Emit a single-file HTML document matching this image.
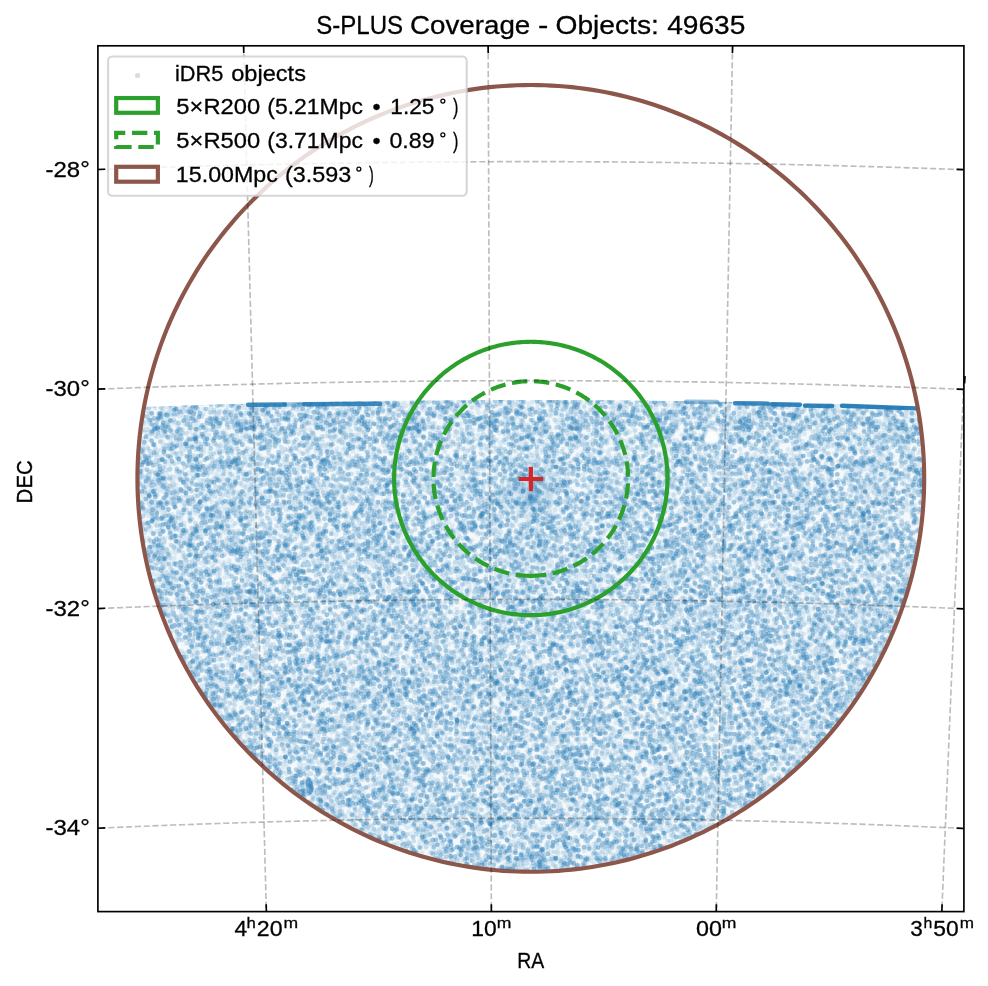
<!DOCTYPE html>
<html><head><meta charset="utf-8"><title>S-PLUS Coverage</title>
<style>html,body{margin:0;padding:0;background:#fff;width:988px;height:986px;overflow:hidden;} svg{display:block;} text{font-kerning:none;}</style>
</head><body>
<svg width="988" height="986" viewBox="0 0 988 986"><defs><clipPath id="reg"><path d="M143.41,410.10 L142.83,413.48 L142.28,416.87 L141.76,420.26 L141.27,423.66 L140.80,427.06 L140.37,430.47 L139.97,433.88 L139.59,437.29 L139.25,440.70 L138.94,444.12 L138.65,447.54 L138.40,450.97 L138.17,454.39 L137.98,457.82 L137.81,461.25 L137.68,464.68 L137.58,468.11 L137.50,471.54 L137.46,474.97 L137.44,478.41 L137.46,481.84 L137.50,485.27 L137.58,488.70 L137.68,492.14 L137.82,495.57 L137.98,498.99 L138.18,502.42 L138.40,505.85 L138.65,509.27 L138.94,512.69 L139.25,516.11 L139.60,519.52 L139.97,522.94 L140.37,526.35 L140.81,529.75 L141.27,533.15 L141.76,536.55 L142.29,539.94 L142.84,543.33 L143.42,546.71 L144.03,550.09 L144.67,553.46 L145.34,556.83 L146.04,560.19 L146.77,563.54 L147.52,566.89 L148.31,570.23 L149.13,573.57 L149.97,576.89 L150.85,580.21 L151.75,583.53 L152.68,586.83 L153.64,590.12 L154.63,593.41 L155.65,596.69 L156.70,599.96 L157.77,603.22 L158.87,606.47 L160.01,609.71 L161.17,612.94 L162.35,616.16 L163.57,619.37 L164.81,622.57 L166.09,625.76 L167.38,628.93 L168.71,632.10 L170.07,635.25 L171.45,638.39 L172.86,641.52 L174.30,644.64 L175.76,647.74 L177.25,650.84 L178.77,653.91 L180.31,656.98 L181.89,660.03 L183.48,663.07 L185.11,666.09 L186.76,669.10 L188.44,672.10 L190.14,675.08 L191.87,678.04 L193.62,680.99 L195.40,683.92 L197.21,686.84 L199.04,689.75 L200.90,692.63 L202.78,695.50 L204.69,698.36 L206.62,701.19 L208.57,704.01 L210.55,706.82 L212.56,709.60 L214.59,712.37 L216.64,715.12 L218.72,717.85 L220.82,720.57 L222.95,723.26 L225.09,725.94 L227.27,728.60 L229.46,731.24 L231.68,733.86 L233.92,736.46 L236.18,739.04 L238.47,741.60 L240.77,744.14 L243.10,746.66 L245.45,749.16 L247.83,751.64 L250.22,754.10 L252.64,756.53 L255.08,758.95 L257.53,761.34 L260.01,763.72 L262.51,766.07 L265.03,768.40 L267.57,770.71 L270.13,772.99 L272.71,775.26 L275.31,777.50 L277.93,779.71 L280.57,781.91 L283.23,784.08 L285.90,786.23 L288.60,788.35 L291.31,790.46 L294.04,792.53 L296.79,794.59 L299.56,796.62 L302.35,798.62 L305.15,800.60 L307.97,802.56 L310.81,804.49 L313.66,806.40 L316.53,808.28 L319.42,810.14 L322.32,811.97 L325.24,813.78 L328.17,815.56 L331.12,817.31 L334.08,819.04 L337.06,820.74 L340.06,822.42 L343.07,824.07 L346.09,825.70 L349.13,827.30 L352.18,828.87 L355.24,830.41 L358.32,831.93 L361.41,833.42 L364.51,834.89 L367.63,836.32 L370.76,837.73 L373.90,839.12 L377.05,840.47 L380.22,841.80 L383.39,843.10 L386.58,844.37 L389.78,845.62 L392.99,846.83 L396.21,848.02 L399.44,849.18 L402.68,850.31 L405.93,851.42 L409.19,852.49 L412.45,853.54 L415.73,854.56 L419.02,855.55 L422.31,856.51 L425.62,857.44 L428.93,858.34 L432.24,859.22 L435.57,860.06 L438.90,860.88 L442.24,861.67 L445.59,862.42 L448.94,863.15 L452.30,863.85 L455.67,864.52 L459.04,865.16 L462.42,865.78 L465.80,866.36 L469.19,866.91 L472.58,867.43 L475.98,867.93 L479.38,868.39 L482.78,868.82 L486.19,869.23 L489.60,869.60 L493.01,869.95 L496.43,870.26 L499.85,870.55 L503.27,870.80 L506.70,871.03 L510.13,871.22 L513.55,871.39 L516.98,871.52 L520.41,871.63 L523.84,871.70 L527.28,871.75 L530.71,871.77 L534.14,871.75 L537.57,871.71 L541.00,871.63 L544.43,871.53 L547.86,871.40 L551.29,871.23 L554.72,871.04 L558.14,870.82 L561.56,870.56 L564.98,870.28 L568.40,869.97 L571.81,869.62 L575.23,869.25 L578.63,868.85 L582.04,868.42 L585.44,867.95 L588.84,867.46 L592.23,866.94 L595.62,866.39 L599.00,865.81 L602.38,865.20 L605.75,864.56 L609.11,863.89 L612.47,863.20 L615.83,862.47 L619.18,861.71 L622.52,860.93 L625.85,860.11 L629.18,859.27 L632.50,858.40 L635.81,857.49 L639.11,856.56 L642.41,855.60 L645.69,854.62 L648.97,853.60 L652.24,852.55 L655.50,851.48 L658.75,850.38 L661.99,849.25 L665.22,848.09 L668.44,846.90 L671.65,845.69 L674.85,844.45 L678.04,843.18 L681.21,841.88 L684.38,840.55 L687.53,839.20 L690.67,837.82 L693.80,836.41 L696.92,834.97 L700.03,833.51 L703.12,832.02 L706.20,830.50 L709.26,828.96 L712.31,827.39 L715.35,825.79 L718.38,824.17 L721.38,822.52 L724.38,820.84 L727.36,819.14 L730.33,817.41 L733.28,815.66 L736.21,813.88 L739.13,812.08 L742.03,810.25 L744.92,808.39 L747.79,806.51 L750.65,804.60 L753.48,802.67 L756.30,800.72 L759.11,798.74 L761.89,796.73 L764.66,794.71 L767.41,792.65 L770.15,790.58 L772.86,788.48 L775.56,786.35 L778.23,784.21 L780.89,782.04 L783.53,779.84 L786.15,777.63 L788.75,775.39 L791.34,773.12 L793.90,770.84 L796.44,768.53 L798.96,766.21 L801.46,763.85 L803.94,761.48 L806.40,759.09 L808.84,756.67 L811.26,754.24 L813.65,751.78 L816.03,749.30 L818.38,746.80 L820.71,744.28 L823.02,741.74 L825.31,739.18 L827.57,736.60 L829.81,734.01 L832.03,731.39 L834.23,728.75 L836.40,726.09 L838.55,723.42 L840.68,720.72 L842.78,718.01 L844.86,715.28 L846.91,712.53 L848.94,709.76 L850.95,706.98 L852.93,704.17 L854.89,701.36 L856.82,698.52 L858.73,695.67 L860.61,692.80 L862.47,689.91 L864.31,687.01 L866.11,684.09 L867.90,681.16 L869.65,678.21 L871.38,675.24 L873.09,672.26 L874.77,669.27 L876.42,666.26 L878.04,663.24 L879.64,660.20 L881.22,657.15 L882.76,654.09 L884.28,651.01 L885.78,647.92 L887.24,644.81 L888.68,641.70 L890.09,638.57 L891.48,635.43 L892.83,632.28 L894.16,629.11 L895.46,625.93 L896.74,622.75 L897.98,619.55 L899.20,616.34 L900.39,613.12 L901.55,609.89 L902.68,606.65 L903.79,603.40 L904.86,600.14 L905.91,596.87 L906.93,593.59 L907.92,590.31 L908.89,587.01 L909.82,583.71 L910.72,580.40 L911.60,577.08 L912.45,573.75 L913.26,570.42 L914.05,567.08 L914.81,563.73 L915.54,560.37 L916.24,557.01 L916.91,553.65 L917.56,550.28 L918.17,546.90 L918.75,543.52 L919.30,540.13 L919.83,536.73 L920.32,533.34 L920.79,529.94 L921.22,526.53 L921.63,523.12 L922.00,519.71 L922.35,516.30 L922.66,512.88 L922.95,509.46 L923.21,506.03 L923.43,502.61 L923.63,499.18 L923.80,495.75 L923.93,492.32 L924.04,488.89 L924.12,485.46 L924.16,482.03 L924.18,478.59 L924.17,475.16 L924.12,471.73 L924.05,468.29 L923.95,464.86 L923.81,461.43 L923.65,458.00 L923.46,454.58 L923.23,451.15 L922.98,447.73 L922.70,444.31 L922.39,440.89 L922.04,437.47 L921.67,434.06 L921.27,430.65 L920.84,427.24 L920.38,423.84 L919.89,420.44 L919.37,417.05 L918.82,413.66 L918.24,410.28 L918.24,407.06 L905.10,406.59 L891.97,406.14 L878.84,405.71 L865.71,405.29 L852.57,404.89 L839.44,404.50 L826.31,404.13 L813.18,403.77 L800.04,403.44 L786.91,403.11 L773.78,402.81 L760.65,402.51 L747.51,402.24 L734.38,401.98 L721.25,401.74 L708.12,401.51 L694.98,401.30 L681.85,401.10 L668.72,400.92 L655.59,400.76 L642.45,400.61 L629.32,400.48 L616.19,400.37 L603.05,400.27 L589.92,400.19 L576.79,400.12 L563.66,400.07 L550.52,400.03 L537.39,400.01 L524.26,400.01 L511.13,400.02 L497.99,400.05 L484.86,400.10 L471.73,400.16 L458.60,400.24 L445.46,400.33 L432.33,400.44 L419.20,400.56 L406.07,400.70 L392.93,400.86 L379.80,401.03 L366.67,401.22 L353.54,401.43 L340.40,401.65 L327.27,401.89 L314.14,402.14 L301.01,402.41 L287.87,402.69 L274.74,402.99 L261.61,403.31 L248.48,403.64 L235.34,403.99 L222.21,404.36 L209.08,404.74 L195.94,405.14 L182.81,405.55 L169.68,405.98 L156.55,406.42 L143.41,406.88Z"/></clipPath><clipPath id="ax"><rect x="97.9" y="45.8" width="866.0" height="865.8000000000001"/></clipPath><pattern id="tex0" patternUnits="userSpaceOnUse" width="89" height="89"><g fill="none" stroke="#1f77b4" stroke-width="4.9" stroke-linecap="round"><path d="M69.0 20.0h0M70.9 41.6h0M44.9 49.3h0M-0.4 70.5h0M88.6 70.5h0M55.4 -1.0h0M55.4 88.0h0M19.2 14.3h0M54.5 3.9h0M54.5 92.9h0M3.2 45.8h0M92.2 45.8h0M56.0 45.8h0M32.9 0.3h0M32.9 89.3h0M73.9 13.7h0M45.4 75.4h0M56.9 66.0h0M32.2 53.2h0M5.3 34.5h0M72.7 33.8h0M53.9 56.8h0M39.2 21.3h0M-2.9 19.1h0M86.1 19.1h0M11.7 75.2h0M84.1 80.4h0M49.2 16.1h0M3.4 78.0h0M92.4 78.0h0M2.7 10.9h0M91.7 10.9h0M77.7 30.6h0M52.5 60.8h0M13.4 83.1h0M72.1 12.2h0M70.6 45.7h0M64.6 20.2h0M17.7 32.3h0M16.0 30.8h0M84.4 51.0h0M30.3 24.2h0M84.7 39.6h0M-1.7 45.9h0M87.3 45.9h0M66.1 51.7h0M6.1 38.3h0M60.2 63.8h0M56.0 -2.5h0M56.0 86.5h0M74.8 10.0h0M41.5 55.9h0M5.5 36.6h0M65.0 10.1h0M81.3 71.4h0M16.7 50.5h0M3.5 52.5h0M92.5 52.5h0M14.8 60.3h0M1.9 27.6h0M90.9 27.6h0M83.5 47.9h0M76.0 4.5h0M78.6 17.6h0M58.8 56.2h0M77.2 79.5h0M50.2 84.1h0M33.8 22.5h0M40.6 58.5h0M33.1 48.0h0M7.3 67.0h0M51.5 26.7h0M6.9 67.9h0M80.7 24.0h0M27.3 74.1h0M55.2 16.7h0M8.6 64.7h0M69.1 73.5h0M23.7 47.7h0M66.6 79.8h0M11.2 16.4h0M83.6 75.0h0M57.1 16.4h0M64.2 39.6h0M3.0 75.1h0M92.0 75.1h0M81.8 34.5h0M12.3 67.7h0M-0.6 13.2h0M88.4 13.2h0M63.4 73.5h0M81.9 11.0h0M8.2 -1.1h0M8.2 87.9h0M51.2 39.7h0M81.4 19.3h0M68.5 6.0h0M42.1 2.9h0M42.1 91.9h0M64.1 40.5h0M5.1 -0.4h0M5.1 88.6h0M21.9 35.1h0M11.0 15.7h0M16.3 59.6h0M23.7 46.9h0M25.2 45.9h0M77.7 16.0h0M20.5 -2.7h0M20.5 86.3h0M3.6 28.1h0M92.6 28.1h0M21.1 41.4h0M78.4 67.7h0M73.8 67.7h0M60.7 65.5h0M81.8 53.1h0M84.6 38.6h0M74.3 29.8h0M1.4 -3.7h0M1.4 85.3h0M90.4 -3.7h0M90.4 85.3h0M50.1 49.7h0M40.3 56.2h0M49.0 6.6h0M17.6 40.4h0M66.8 63.0h0M49.3 71.8h0M41.5 55.2h0M72.9 60.4h0M44.8 30.1h0M73.6 33.9h0M75.2 69.9h0M39.8 63.4h0M76.6 51.6h0M49.6 59.2h0M37.4 16.3h0M26.0 26.1h0M33.1 51.7h0M33.6 23.8h0M78.7 44.0h0M77.1 27.9h0M44.0 17.6h0M68.3 40.8h0M17.9 28.2h0M5.0 65.2h0M72.8 39.6h0M5.6 60.8h0M33.5 56.7h0M25.7 27.2h0M12.2 28.6h0M68.4 43.4h0M82.2 58.4h0M55.3 68.3h0M22.9 38.9h0M43.5 12.6h0M39.3 56.9h0M12.1 12.3h0M15.5 25.2h0M16.4 14.7h0M42.2 1.3h0M42.2 90.3h0M24.0 70.5h0M16.4 54.9h0M59.5 4.4h0M59.0 53.4h0M68.7 19.0h0M84.8 78.9h0M10.2 28.1h0M2.9 74.0h0M91.9 74.0h0M54.5 59.3h0M60.4 50.7h0M29.9 45.6h0" stroke-opacity="0.119"/><path d="M26.7 77.7h0M0.5 73.1h0M89.5 73.1h0M1.0 17.1h0M90.0 17.1h0M45.2 77.5h0M-1.9 52.5h0M87.1 52.5h0M35.8 8.6h0M59.8 26.7h0M17.1 82.6h0M78.7 57.1h0M50.7 33.5h0M28.7 66.9h0M2.2 33.1h0M91.2 33.1h0M-2.9 58.5h0M86.1 58.5h0M38.1 46.6h0M68.1 80.9h0M0.5 67.0h0M89.5 67.0h0M37.3 72.6h0M46.4 79.8h0M38.0 78.2h0M46.2 84.6h0M22.3 71.7h0M18.1 4.5h0M53.7 42.6h0M56.5 16.4h0M81.5 4.2h0M2.7 1.8h0M2.7 90.8h0M91.7 1.8h0M91.7 90.8h0M72.2 58.6h0M51.1 3.5h0M51.1 92.5h0M71.3 -3.6h0M71.3 85.4h0M30.1 28.3h0M71.0 27.9h0M11.5 68.3h0M51.1 56.8h0M54.2 8.6h0M73.3 71.5h0M14.4 2.4h0M14.4 91.4h0M57.9 19.1h0M9.0 33.9h0M11.9 59.0h0M73.9 33.5h0M38.7 78.7h0M60.0 33.0h0M5.7 46.2h0M67.4 17.0h0M48.3 34.5h0M48.8 64.2h0M34.0 73.9h0M10.4 15.7h0M66.8 17.0h0M76.6 43.1h0M55.9 47.7h0M12.1 10.1h0M-1.8 83.8h0M87.2 83.8h0M44.3 81.4h0M67.3 14.8h0M29.3 83.4h0M13.8 45.8h0M8.1 -3.1h0M8.1 85.9h0M51.2 71.5h0M25.1 71.4h0M41.7 36.4h0M17.4 78.2h0M49.7 35.3h0M66.2 33.9h0M60.3 51.9h0M38.3 -0.1h0M38.3 88.9h0M84.4 79.1h0M61.0 6.5h0M37.4 73.7h0M73.7 42.2h0M33.2 48.6h0M23.0 42.4h0M22.8 6.0h0M37.6 68.7h0M63.2 17.4h0M66.8 30.6h0M40.8 14.5h0M82.2 79.5h0M81.4 -0.9h0M81.4 88.1h0" stroke-opacity="0.198"/><path d="M27.0 24.8h0M22.7 39.6h0M44.2 22.0h0M61.6 17.9h0M23.8 78.3h0M8.1 48.2h0M60.2 13.4h0M77.8 58.9h0M50.7 12.9h0M36.6 21.3h0M41.6 48.7h0M1.3 55.9h0M90.3 55.9h0M29.6 35.4h0M18.9 81.5h0M52.9 58.7h0M27.3 -3.4h0M27.3 85.6h0M68.0 72.6h0M78.1 46.6h0M10.0 55.8h0M76.8 70.9h0M29.1 64.3h0M19.1 22.0h0M11.7 11.9h0M11.6 7.2h0M64.2 -0.3h0M64.2 88.7h0M69.2 35.2h0M67.6 67.4h0M33.7 37.4h0M27.9 27.8h0M79.1 81.6h0M20.2 11.1h0M2.9 44.8h0M91.9 44.8h0M53.4 5.9h0M26.8 14.9h0M36.9 61.6h0M59.6 18.6h0M49.1 68.5h0M52.8 19.8h0M57.1 36.1h0M41.5 67.2h0M3.1 34.7h0M92.1 34.7h0M31.4 39.8h0M72.7 14.3h0M84.8 54.1h0" stroke-opacity="0.297"/><path d="M41.5 81.6h0M28.8 13.4h0M31.6 46.2h0M36.6 82.1h0M22.5 22.1h0M54.4 17.0h0M29.4 40.7h0M33.4 63.3h0M71.2 57.4h0M35.2 70.4h0M18.5 45.1h0M63.0 75.6h0M62.6 57.3h0M5.8 64.8h0M64.1 46.6h0M65.0 7.5h0M83.0 3.5h0M83.0 92.5h0M62.9 68.6h0M21.9 57.3h0M46.7 56.2h0M18.1 -3.4h0M18.1 85.6h0M-3.4 2.3h0M-3.4 91.3h0M85.6 2.3h0M85.6 91.3h0M36.2 37.2h0" stroke-opacity="0.396"/></g></pattern><pattern id="tex1" patternUnits="userSpaceOnUse" width="127" height="127"><g fill="none" stroke="#1f77b4" stroke-width="4.9" stroke-linecap="round"><path d="M101.1 85.9h0M74.1 120.9h0M65.9 1.9h0M65.9 128.9h0M113.1 8.5h0M16.4 88.0h0M57.5 22.5h0M4.5 108.1h0M63.8 110.3h0M35.6 119.3h0M64.0 12.3h0M5.8 -1.2h0M5.8 125.8h0M73.6 6.9h0M64.9 64.0h0M19.3 51.8h0M105.9 79.2h0M92.7 73.2h0M-3.2 68.5h0M123.8 68.5h0M32.1 2.3h0M32.1 129.3h0M115.1 121.9h0M102.0 36.5h0M76.5 117.6h0M44.5 8.8h0M122.2 -2.4h0M122.2 124.6h0M25.7 110.4h0M101.7 117.1h0M18.0 1.7h0M18.0 128.7h0M39.3 113.6h0M-1.2 3.7h0M-1.2 130.7h0M125.8 3.7h0M125.8 130.7h0M38.2 121.8h0M1.9 20.5h0M128.9 20.5h0M27.1 11.0h0M71.4 17.5h0M68.8 79.9h0M32.6 -1.0h0M32.6 126.0h0M91.4 53.8h0M91.3 65.6h0M110.9 59.5h0M116.8 40.2h0M118.8 120.4h0M76.8 9.4h0M118.9 41.8h0M47.3 122.0h0M65.2 37.7h0M75.2 -2.1h0M75.2 124.9h0M58.4 97.7h0M100.0 110.4h0M25.0 33.8h0M46.0 103.9h0M69.8 65.0h0M96.5 83.2h0M55.9 48.8h0M120.8 42.9h0M59.8 103.4h0M122.6 111.4h0M15.9 63.3h0M81.3 116.3h0M101.7 20.4h0M60.6 62.5h0M64.9 116.1h0M50.7 33.2h0M70.6 40.7h0M117.7 10.8h0M90.4 37.2h0M0.1 49.2h0M127.1 49.2h0M122.2 97.0h0M106.9 45.5h0M-0.5 71.1h0M126.5 71.1h0M41.6 16.1h0M116.3 23.6h0M11.7 63.5h0M30.1 114.0h0M15.6 67.7h0M6.4 119.3h0M21.8 52.1h0M69.4 91.3h0M44.1 9.6h0M22.4 58.4h0M-1.3 87.3h0M125.7 87.3h0M45.6 70.4h0M101.1 80.7h0M89.9 33.5h0M25.5 7.8h0M100.5 102.7h0M83.6 10.7h0M84.1 73.2h0M78.4 56.8h0M58.9 94.7h0M46.3 11.1h0M48.2 40.9h0M77.2 58.4h0M71.5 2.2h0M71.5 129.2h0M83.4 113.5h0M45.0 13.3h0M113.2 15.6h0M15.0 40.5h0M-1.7 46.1h0M125.3 46.1h0M73.6 55.0h0M37.1 104.1h0M94.0 81.9h0M79.2 117.7h0M2.8 88.5h0M129.8 88.5h0M29.7 83.8h0M24.0 51.2h0M94.6 24.0h0M29.8 101.7h0M103.8 120.1h0M106.6 82.2h0M92.5 94.9h0M37.8 85.4h0M65.7 42.9h0M64.5 11.7h0M49.9 120.7h0M109.9 64.6h0M101.3 56.0h0M38.8 -1.5h0M38.8 125.5h0M42.6 29.1h0M82.2 54.3h0M70.3 20.2h0M42.9 24.1h0M58.6 1.5h0M58.6 128.5h0M90.8 32.6h0M68.0 58.1h0M37.3 53.5h0M97.9 9.6h0M35.1 60.8h0M85.9 82.0h0M92.1 13.4h0M35.8 96.0h0M-0.8 86.8h0M126.2 86.8h0M102.0 117.4h0M75.6 44.3h0M24.2 0.4h0M24.2 127.4h0M17.5 108.1h0M79.3 -1.2h0M79.3 125.8h0M8.5 51.0h0M57.4 23.9h0M91.1 67.9h0M10.2 30.1h0M8.0 24.2h0M25.4 52.7h0M33.9 68.9h0M28.1 109.0h0M37.9 83.4h0M33.5 61.1h0M105.6 17.9h0M119.6 122.8h0M92.7 86.0h0M40.1 41.0h0M91.9 0.7h0M91.9 127.7h0M111.1 96.6h0M36.5 48.8h0M42.2 47.9h0M90.6 95.5h0M107.8 103.0h0M85.0 91.6h0M15.3 50.4h0M95.0 98.5h0M16.4 81.4h0M24.6 34.0h0M58.7 21.9h0M68.4 43.7h0M83.2 67.5h0M89.8 93.3h0M120.2 73.3h0M34.6 55.1h0M31.5 33.7h0M46.2 99.2h0M45.5 6.8h0M84.0 99.3h0M106.8 3.0h0M106.8 130.0h0M106.6 24.9h0M32.4 11.8h0M60.9 99.2h0M51.5 20.4h0M14.5 26.1h0M63.8 85.6h0M-3.5 108.3h0M123.5 108.3h0M52.8 30.3h0M26.0 84.1h0M119.0 52.0h0M120.0 114.8h0M105.1 29.6h0M47.0 106.9h0M101.2 41.5h0M78.7 44.7h0M114.4 119.7h0M110.2 84.4h0M29.5 72.0h0M39.1 116.7h0M104.3 12.2h0M117.9 106.0h0M39.0 48.8h0M30.6 37.1h0M37.8 102.7h0M14.5 93.1h0M-3.2 90.3h0M123.8 90.3h0M66.2 27.2h0M2.2 119.7h0M129.2 119.7h0M58.8 106.0h0M45.4 102.3h0M77.0 68.2h0M16.0 104.2h0M105.1 68.3h0M110.9 45.1h0M52.1 42.4h0M0.7 29.4h0M127.7 29.4h0M97.2 54.2h0M72.2 36.1h0M45.8 95.7h0M80.1 116.4h0M94.3 116.4h0M49.3 72.6h0M105.0 93.6h0M117.3 8.4h0M97.7 58.9h0M62.0 108.1h0M34.3 104.5h0M98.6 114.0h0M16.2 21.1h0M115.9 110.5h0M-3.1 112.5h0M123.9 112.5h0M80.5 114.0h0M36.1 66.9h0M-2.6 76.0h0M124.4 76.0h0M64.4 100.0h0M39.7 105.5h0M2.4 30.3h0M129.4 30.3h0M22.5 32.7h0M37.9 72.9h0M66.2 88.1h0M79.6 42.7h0M114.4 48.5h0M117.6 75.5h0M79.4 85.7h0M16.9 60.9h0M15.5 1.8h0M15.5 128.8h0M-0.4 39.7h0M126.6 39.7h0M64.7 26.7h0M71.0 45.7h0M29.7 23.2h0M41.1 108.2h0" stroke-opacity="0.119"/><path d="M69.5 78.5h0M12.7 33.1h0M103.1 99.9h0M110.0 51.1h0M39.5 64.2h0M1.0 56.2h0M128.0 56.2h0M25.3 90.5h0M113.9 40.2h0M55.3 120.8h0M120.5 15.9h0M26.7 103.9h0M1.8 88.7h0M128.8 88.7h0M68.6 48.4h0M83.4 22.0h0M62.6 59.1h0M91.4 42.4h0M32.8 79.1h0M12.4 85.0h0M112.9 102.4h0M22.6 -3.8h0M22.6 123.2h0M111.5 79.0h0M66.0 36.9h0M16.0 16.3h0M24.0 74.1h0M26.1 84.4h0M36.8 50.7h0M58.9 114.9h0M31.3 91.3h0M50.0 64.2h0M111.4 85.4h0M12.0 17.4h0M40.4 13.8h0M103.0 102.2h0M54.4 109.7h0M14.5 71.6h0M97.3 92.9h0M52.7 99.0h0M22.3 81.2h0M59.0 36.2h0M88.3 52.0h0M63.1 6.3h0M46.7 38.7h0M76.5 104.4h0M98.8 36.7h0M15.1 95.3h0M57.0 18.7h0M12.4 110.9h0M1.6 24.6h0M128.6 24.6h0M36.8 11.1h0M35.9 16.2h0M105.5 37.8h0M64.6 11.1h0M99.9 8.4h0M-1.3 11.0h0M125.7 11.0h0M114.3 113.5h0M118.9 32.5h0M17.4 48.8h0M66.3 120.4h0M93.1 5.4h0M6.4 64.0h0M93.5 83.5h0M78.3 5.9h0M89.8 -3.5h0M89.8 123.5h0M66.4 78.0h0M49.8 90.8h0M59.3 52.5h0M46.4 62.7h0M35.7 30.7h0M107.7 43.7h0M78.6 114.6h0M121.9 17.6h0M64.6 86.5h0M117.1 112.7h0M7.3 98.0h0M62.0 67.4h0M88.2 81.0h0M86.1 48.8h0M86.0 43.9h0M49.0 9.4h0M78.8 16.1h0M46.0 62.8h0M100.4 17.8h0M94.8 17.0h0M110.7 -2.0h0M110.7 125.0h0M85.5 59.0h0M11.4 58.8h0M23.8 104.5h0M88.6 105.4h0M62.4 46.8h0M53.5 108.2h0M86.6 86.4h0M10.9 96.2h0M24.7 39.1h0M122.7 108.4h0M91.6 18.6h0M5.0 119.9h0M12.9 82.8h0M99.1 62.1h0M85.8 -1.3h0M85.8 125.7h0M13.0 24.8h0M94.6 108.3h0M81.0 87.3h0M122.7 59.2h0M13.1 102.6h0M67.8 55.7h0M42.6 97.4h0M20.9 48.7h0M58.8 121.5h0M0.3 105.8h0M127.3 105.8h0M29.2 113.9h0M71.0 28.3h0M65.1 20.4h0M106.5 4.6h0M87.2 31.3h0M65.7 65.8h0M55.6 4.9h0M57.4 25.6h0M23.7 53.1h0M47.5 21.2h0M96.5 85.8h0M2.2 29.2h0M129.2 29.2h0M-0.9 28.9h0M126.1 28.9h0M6.0 52.9h0M74.4 63.4h0M37.5 33.6h0M31.5 99.4h0M30.5 47.4h0M120.9 8.7h0M74.9 35.4h0M113.1 13.1h0M50.0 112.5h0M1.0 41.3h0M128.0 41.3h0M63.4 9.7h0M114.3 87.3h0M107.6 118.0h0M44.1 11.0h0M43.4 24.9h0M-1.3 27.7h0M125.7 27.7h0M58.2 -3.5h0M58.2 123.5h0M0.9 37.5h0M127.9 37.5h0M88.0 62.3h0M122.6 43.4h0M102.4 106.4h0M-2.9 35.4h0M124.1 35.4h0M10.6 55.7h0M105.7 113.6h0M99.3 59.5h0M95.2 81.2h0M119.9 67.5h0M55.0 90.6h0M6.3 104.5h0M88.1 115.6h0M34.3 99.7h0M59.7 75.8h0M53.7 70.7h0M96.6 103.6h0M81.5 76.5h0M59.4 104.7h0M4.5 37.0h0M111.8 111.7h0M80.6 49.0h0M60.9 116.3h0M97.1 38.8h0M74.3 63.1h0M18.5 95.8h0M20.6 48.3h0M88.4 82.7h0M56.4 101.5h0M120.1 3.0h0M120.1 130.0h0M89.3 98.3h0M108.2 15.5h0M99.4 80.6h0M20.0 76.8h0M26.5 51.1h0M100.3 5.0h0M0.4 99.8h0M127.4 99.8h0" stroke-opacity="0.198"/><path d="M103.8 81.4h0M-2.8 31.0h0M124.2 31.0h0M7.2 54.5h0M64.0 37.6h0M109.2 36.8h0M6.9 102.5h0M68.8 48.1h0M33.5 17.1h0M53.6 54.5h0M59.9 75.2h0M49.5 64.9h0M3.8 -0.7h0M3.8 126.3h0M130.8 -0.7h0M130.8 126.3h0M72.4 0.7h0M72.4 127.7h0M82.9 37.3h0M113.6 10.5h0M108.8 7.5h0M73.9 112.8h0M79.7 118.3h0M58.7 111.8h0M76.0 6.8h0M112.6 89.7h0M61.6 122.4h0M107.6 77.4h0M38.5 16.2h0M112.5 60.9h0M31.3 51.8h0M26.3 10.7h0M7.6 89.2h0M90.9 109.6h0M12.6 92.4h0M115.8 46.2h0M1.1 113.0h0M128.1 113.0h0M2.2 98.4h0M129.2 98.4h0M37.2 106.3h0M122.6 84.5h0M84.5 40.8h0M28.6 92.2h0M68.9 79.1h0M63.3 27.9h0M35.0 90.6h0M36.6 104.4h0M28.1 47.0h0M-2.0 27.7h0M125.0 27.7h0M44.9 64.2h0M119.4 17.6h0M68.1 -1.2h0M68.1 125.8h0M101.3 8.8h0M62.8 29.8h0M31.5 121.9h0M49.7 56.0h0M23.0 39.2h0M4.2 37.8h0M109.8 43.3h0M101.1 84.0h0M40.9 46.0h0M103.7 2.7h0M103.7 129.7h0M104.7 40.9h0M109.0 101.4h0M34.3 47.3h0M35.1 10.1h0M42.1 7.8h0M51.6 57.0h0M78.6 63.2h0M25.1 101.0h0M65.2 58.2h0M20.0 88.8h0M32.3 32.7h0M2.5 83.4h0M129.5 83.4h0M91.7 8.7h0M1.6 -2.9h0M1.6 124.1h0M128.6 -2.9h0M128.6 124.1h0M37.3 68.3h0M114.4 118.8h0M65.4 89.3h0M49.1 57.1h0M34.1 36.8h0M82.5 19.5h0M89.4 20.5h0M112.0 25.6h0M92.9 106.5h0M58.8 63.1h0M61.9 57.7h0M66.9 39.7h0M54.6 57.4h0M75.7 11.6h0M4.0 57.4h0M5.5 43.5h0M18.2 75.2h0M112.7 45.7h0M35.7 44.4h0M73.5 120.0h0M91.4 98.9h0M93.5 42.3h0M42.1 67.5h0M14.1 -1.1h0M14.1 125.9h0M122.8 4.8h0M42.1 13.8h0M114.0 34.0h0M65.9 87.3h0M63.3 31.2h0M70.5 114.9h0M95.5 37.6h0M31.1 38.5h0M70.3 83.0h0M33.0 101.7h0M63.7 46.7h0M56.5 22.4h0M63.0 29.3h0M8.1 59.7h0M8.3 29.4h0M62.6 119.7h0M69.5 103.9h0M106.3 -1.2h0M106.3 125.8h0M84.8 2.4h0M84.8 129.4h0" stroke-opacity="0.297"/><path d="M24.7 59.8h0M83.9 7.2h0M66.2 25.5h0M69.7 23.6h0M15.1 110.5h0M69.8 94.5h0M7.3 90.9h0M41.2 75.1h0M74.0 74.6h0M51.8 77.9h0M116.5 122.9h0M36.1 -0.1h0M36.1 126.9h0M76.0 85.3h0M119.1 93.5h0M18.9 55.9h0M56.3 82.6h0M110.5 41.4h0M33.2 88.5h0M-1.0 77.7h0M126.0 77.7h0M38.3 50.2h0M56.3 101.3h0M41.5 19.7h0M25.0 13.5h0M13.2 44.3h0M51.7 117.3h0M88.8 40.1h0M45.1 80.4h0M8.8 46.5h0M3.1 112.7h0M130.1 112.7h0M109.5 62.1h0M107.0 58.6h0M108.6 79.9h0M27.4 48.2h0M8.0 122.0h0M25.8 1.7h0M25.8 128.7h0M70.5 88.1h0M22.3 114.9h0M31.4 37.1h0M113.9 48.8h0M11.0 122.2h0M11.3 67.0h0M31.8 94.7h0M94.2 18.4h0M48.7 28.0h0M92.6 71.6h0M11.8 25.5h0M101.2 5.7h0M45.3 9.6h0M33.3 97.2h0" stroke-opacity="0.396"/></g></pattern><pattern id="tex2" patternUnits="userSpaceOnUse" width="163" height="163"><g fill="none" stroke="#1f77b4" stroke-width="4.9" stroke-linecap="round"><path d="M43.5 156.8h0M4.5 119.7h0M54.2 60.3h0M53.5 14.0h0M51.1 19.5h0M2.7 157.4h0M165.7 157.4h0M133.0 41.3h0M55.8 95.5h0M19.9 49.1h0M115.8 117.4h0M34.5 120.9h0M42.4 70.3h0M112.9 -3.2h0M112.9 159.8h0M108.3 146.7h0M137.3 14.7h0M77.3 98.7h0M9.4 128.6h0M60.6 76.5h0M158.8 15.9h0M8.9 0.6h0M8.9 163.6h0M141.0 92.6h0M38.4 34.0h0M75.5 148.4h0M87.7 136.9h0M104.5 91.6h0M79.8 110.9h0M80.1 118.3h0M29.7 52.5h0M142.3 64.4h0M137.4 152.9h0M94.3 16.6h0M123.4 108.5h0M47.4 140.7h0M78.7 9.3h0M16.1 3.6h0M16.1 166.6h0M101.5 66.7h0M72.0 133.8h0M127.0 0.5h0M127.0 163.5h0M44.1 38.9h0M16.8 90.3h0M72.7 116.2h0M62.7 107.7h0M131.2 64.7h0M18.1 86.7h0M15.5 36.7h0M101.6 158.5h0M23.8 84.5h0M125.3 115.7h0M91.6 101.3h0M94.8 110.3h0M151.2 154.3h0M17.1 73.6h0M127.4 48.0h0M11.4 69.2h0M37.5 140.5h0M130.7 91.2h0M8.2 35.5h0M99.6 32.5h0M80.6 43.9h0M6.4 44.6h0M50.2 143.2h0M8.4 56.6h0M140.7 113.4h0M47.8 128.5h0M82.4 146.1h0M8.4 70.1h0M111.0 66.0h0M15.6 133.2h0M8.4 14.2h0M71.6 134.5h0M-3.4 134.9h0M159.6 134.9h0M147.0 110.0h0M96.0 94.8h0M10.6 60.2h0M125.5 90.1h0M26.7 132.7h0M6.8 151.8h0M106.2 90.6h0M67.3 134.5h0M1.1 2.6h0M1.1 165.6h0M164.1 2.6h0M164.1 165.6h0M65.5 87.5h0M110.5 16.1h0M120.4 86.9h0M-1.4 19.3h0M161.6 19.3h0M-0.6 77.7h0M162.4 77.7h0M59.4 145.9h0M85.5 10.9h0M132.8 7.6h0M1.3 77.7h0M164.3 77.7h0M14.5 144.6h0M29.9 108.9h0M6.5 41.4h0M60.2 18.2h0M93.0 118.0h0M114.9 79.8h0M117.2 146.6h0M150.7 38.6h0M150.3 65.7h0M110.7 155.3h0M11.5 97.3h0M155.4 69.7h0M72.3 76.7h0M45.0 27.1h0M72.9 80.6h0M55.1 136.3h0M-1.6 110.1h0M161.4 110.1h0M89.0 137.9h0M70.1 1.7h0M70.1 164.7h0M44.4 96.9h0M90.1 56.1h0M18.2 116.2h0M129.9 41.3h0M78.1 102.7h0M51.3 17.5h0M80.0 71.3h0M57.5 118.4h0M122.5 135.0h0M103.0 148.4h0M62.5 112.7h0M119.4 75.2h0M56.9 99.6h0M36.6 149.1h0M92.9 119.0h0M98.4 7.5h0M6.0 66.4h0M104.7 71.5h0M60.1 144.0h0M99.3 101.2h0M39.7 42.0h0M142.6 33.2h0M53.8 59.7h0M39.3 144.5h0M138.0 36.8h0M134.8 36.6h0M33.6 39.7h0M30.3 152.6h0M60.9 22.6h0M140.5 106.3h0M39.4 37.1h0M131.2 71.1h0M106.9 7.0h0M157.4 143.4h0M26.9 125.3h0M92.3 68.5h0M117.8 34.4h0M90.4 91.6h0M1.9 21.5h0M164.9 21.5h0M58.6 29.0h0M38.7 110.2h0M156.7 74.7h0M105.3 124.1h0M109.7 107.1h0M26.3 29.4h0M123.2 47.7h0M154.1 102.4h0M137.6 77.8h0M11.6 2.0h0M11.6 165.0h0M29.1 77.2h0M41.5 145.5h0M135.4 32.8h0M0.9 78.8h0M163.9 78.8h0M78.1 76.3h0M56.4 46.9h0M106.6 32.3h0M119.6 63.1h0M40.4 88.0h0M48.2 133.8h0M21.5 67.5h0M79.8 154.0h0M52.3 73.1h0M134.8 15.8h0M64.2 30.0h0M79.1 118.8h0M50.6 27.3h0M118.7 125.7h0M149.3 97.7h0M123.2 155.0h0M5.8 93.7h0M142.2 71.4h0M112.3 29.7h0M16.0 116.4h0M59.2 138.7h0M60.2 147.3h0M61.5 119.5h0M157.8 102.7h0M144.7 61.1h0M84.3 83.6h0M15.4 0.1h0M15.4 163.1h0M85.4 82.2h0M140.8 29.6h0M156.1 158.1h0M0.4 104.9h0M163.4 104.9h0M131.9 42.7h0M121.9 131.6h0M143.4 152.1h0M125.3 62.6h0M113.8 112.2h0M64.5 42.8h0M7.4 150.4h0M112.2 61.3h0M28.4 56.9h0M78.5 146.0h0M9.2 -1.0h0M9.2 162.0h0M90.8 96.6h0M40.7 126.6h0M34.9 22.4h0M125.6 20.5h0M17.4 86.4h0M-2.4 14.7h0M160.6 14.7h0M138.3 32.1h0M153.6 20.9h0M148.7 27.0h0M20.4 53.4h0M4.1 62.5h0M65.5 87.0h0M68.6 42.1h0M136.9 57.7h0M135.1 154.6h0M128.6 51.0h0M143.6 96.0h0M41.2 10.7h0M20.3 72.7h0M14.5 105.5h0M129.1 10.3h0M50.5 49.0h0M88.4 98.5h0M63.7 49.4h0M125.0 137.2h0M91.2 110.0h0M63.0 44.2h0M130.9 138.3h0M143.8 123.4h0M18.5 103.7h0M100.1 43.4h0M21.7 41.9h0M108.8 146.9h0M94.0 4.7h0M156.4 32.2h0M56.4 85.8h0M74.5 46.2h0M152.7 17.0h0M64.7 137.4h0M106.8 158.7h0M82.0 125.1h0M13.5 88.4h0M19.0 47.2h0M56.1 46.6h0M70.4 135.8h0M84.3 96.0h0M154.4 54.7h0M14.7 11.6h0M72.0 20.7h0M51.0 74.3h0M50.7 54.7h0M79.2 111.3h0M6.8 -0.4h0M6.8 162.6h0M70.2 150.5h0M1.2 9.4h0M164.2 9.4h0M16.2 148.8h0M67.2 138.0h0M59.0 54.0h0M73.9 122.9h0M13.6 151.0h0M77.7 59.6h0M113.7 45.1h0M80.6 98.5h0M82.2 113.6h0M133.6 56.5h0M144.1 115.7h0M113.2 148.0h0M9.7 6.1h0M31.9 93.8h0M69.1 13.4h0M65.6 124.4h0M123.7 80.6h0M58.4 34.9h0M47.6 57.9h0M58.9 29.2h0M41.6 25.5h0M24.7 114.5h0M70.0 109.5h0M50.6 69.5h0M78.4 55.8h0M35.9 56.1h0M92.1 58.8h0M105.8 134.7h0M115.7 63.6h0M23.6 99.0h0M34.3 60.0h0M88.8 156.9h0M23.9 12.0h0M87.8 153.7h0M58.8 106.7h0M88.7 71.3h0M134.5 81.1h0M87.9 115.8h0M139.1 95.3h0M114.7 44.9h0M96.6 53.8h0M2.6 109.7h0M165.6 109.7h0M11.7 32.1h0M-2.1 92.9h0M160.9 92.9h0M77.8 144.8h0M128.7 153.6h0M1.6 94.0h0M164.6 94.0h0M22.5 91.5h0M141.8 41.2h0M56.0 65.7h0M43.2 58.3h0M32.1 141.3h0M100.2 16.5h0M2.4 144.1h0M165.4 144.1h0M38.2 17.3h0M63.0 57.3h0M13.1 97.0h0M44.1 149.8h0M16.6 146.0h0M131.9 14.1h0M16.4 60.8h0M93.9 148.6h0M60.5 30.6h0M46.2 40.5h0M40.6 83.2h0M26.0 92.8h0M53.8 151.5h0M54.1 53.2h0M112.9 79.5h0M140.7 59.0h0M-3.8 48.8h0M159.2 48.8h0M125.8 90.9h0M149.5 95.3h0M89.7 101.7h0M32.4 24.2h0M95.4 81.5h0M81.1 47.5h0M74.2 112.1h0M147.9 152.3h0M73.0 83.0h0M133.6 72.9h0M7.8 114.1h0M22.4 49.3h0M119.8 17.8h0M69.2 11.1h0M2.8 61.0h0M165.8 61.0h0M46.7 142.7h0M2.2 105.4h0M165.2 105.4h0M119.6 68.0h0M89.0 128.7h0M8.3 89.0h0M71.8 66.0h0M107.0 -0.2h0M107.0 162.8h0M108.4 43.9h0M24.0 11.6h0M10.2 45.8h0M42.2 32.9h0M33.6 18.1h0M39.0 36.6h0M109.6 41.0h0M7.6 68.7h0M28.7 78.6h0M137.3 55.5h0M136.6 31.8h0M129.4 4.8h0M59.1 77.5h0M96.0 23.1h0M88.6 113.0h0M46.8 139.8h0M63.5 2.6h0M63.5 165.6h0M102.0 146.6h0M17.5 134.9h0M0.3 119.4h0M163.3 119.4h0M142.6 7.6h0M71.6 10.8h0M58.8 66.6h0M0.6 77.3h0M163.6 77.3h0M34.3 158.0h0M21.2 34.3h0M46.2 10.2h0M137.6 79.6h0M86.6 81.5h0M48.7 37.8h0M58.3 119.8h0M38.3 44.4h0M66.3 20.9h0M145.5 60.9h0M114.2 4.3h0M73.6 109.8h0M27.8 85.9h0M23.4 79.9h0M139.8 115.2h0M54.8 79.2h0M144.2 33.8h0M14.2 83.7h0M129.6 65.6h0M137.4 64.6h0M106.9 38.9h0M142.1 36.9h0M91.8 14.0h0M70.3 93.9h0M42.1 68.8h0M11.2 127.3h0M0.5 -2.3h0M0.5 160.7h0M163.5 -2.3h0M163.5 160.7h0M146.2 -2.1h0M146.2 160.9h0M18.9 51.9h0M125.0 41.2h0M52.8 20.8h0M70.0 57.8h0M145.5 24.9h0M19.5 127.8h0M128.8 125.3h0M46.7 126.0h0M91.6 86.7h0M10.4 57.0h0M29.2 72.8h0M151.1 153.7h0M7.6 78.3h0M4.6 13.1h0M144.4 130.8h0M155.2 18.9h0M151.3 56.8h0M95.1 93.0h0M36.2 104.5h0M61.8 88.6h0M64.8 13.2h0M143.1 112.8h0M45.9 22.1h0M30.0 43.1h0M92.1 5.4h0M53.5 126.3h0M6.3 -3.2h0M6.3 159.8h0M102.9 92.7h0M70.1 46.3h0M23.5 51.4h0M57.6 13.1h0M150.8 42.1h0M88.0 10.8h0M90.0 105.3h0M13.0 -4.0h0M13.0 159.0h0M26.6 42.9h0M120.1 54.9h0M142.9 38.8h0M51.2 112.8h0M116.3 28.5h0M51.2 54.8h0M151.6 74.3h0M57.5 95.7h0M151.5 57.1h0M10.9 137.3h0M72.9 158.0h0M94.6 154.4h0M64.9 61.7h0M104.4 66.0h0" stroke-opacity="0.119"/><path d="M104.7 3.1h0M104.7 166.1h0M40.1 -0.4h0M40.1 162.6h0M53.9 154.3h0M0.4 35.5h0M163.4 35.5h0M77.6 115.2h0M6.2 143.7h0M97.2 137.7h0M74.9 22.0h0M144.2 -2.4h0M144.2 160.6h0M31.1 85.6h0M20.2 84.6h0M31.4 86.5h0M136.0 107.7h0M72.6 44.6h0M131.2 107.1h0M136.0 68.7h0M151.9 12.0h0M110.9 49.5h0M106.7 102.6h0M51.9 54.4h0M149.8 157.7h0M24.5 95.7h0M155.7 13.3h0M83.9 64.6h0M104.3 155.3h0M55.4 143.8h0M72.7 102.9h0M71.9 61.8h0M52.0 62.1h0M35.4 149.3h0M12.2 74.3h0M59.5 125.1h0M109.4 71.0h0M115.8 64.8h0M23.3 68.0h0M98.0 75.8h0M7.1 -2.8h0M7.1 160.2h0M19.8 86.3h0M53.3 95.2h0M50.0 1.7h0M50.0 164.7h0M86.8 102.5h0M71.9 156.4h0M39.3 63.3h0M28.2 49.6h0M143.0 19.6h0M63.6 83.9h0M69.1 114.4h0M62.8 124.9h0M85.8 109.7h0M154.6 99.0h0M46.2 -1.1h0M46.2 161.9h0M65.2 37.1h0M38.1 123.4h0M79.0 36.2h0M30.2 152.1h0M16.0 145.4h0M143.2 59.0h0M16.7 102.8h0M82.9 27.7h0M2.7 13.7h0M165.7 13.7h0M143.8 52.3h0M22.4 68.7h0M82.0 102.4h0M9.0 31.3h0M19.1 44.0h0M108.6 158.6h0M129.5 105.7h0M61.6 65.7h0M49.2 131.4h0M148.7 130.4h0M134.3 6.8h0M0.2 141.8h0M163.2 141.8h0M83.1 95.7h0M71.8 53.1h0M140.2 62.5h0M126.0 94.7h0M147.7 5.2h0M49.1 68.9h0M148.0 149.7h0M65.3 117.0h0M96.3 50.0h0M58.9 27.1h0M22.0 123.3h0M105.1 52.6h0M28.4 121.3h0M157.1 129.0h0M30.5 129.6h0M147.8 121.7h0M4.2 6.3h0M87.9 115.2h0M23.7 154.3h0M32.8 20.2h0M10.8 15.0h0M113.0 101.6h0M82.9 125.0h0M117.0 27.4h0M153.7 44.4h0M102.6 3.0h0M102.6 166.0h0M64.2 114.8h0M58.8 131.6h0M148.8 22.4h0M124.8 0.8h0M124.8 163.8h0M97.4 135.7h0M24.3 98.3h0M87.2 88.0h0M44.3 32.5h0M56.0 100.8h0M66.0 2.9h0M66.0 165.9h0M141.2 39.0h0M67.2 148.1h0M158.0 149.1h0M67.0 121.3h0M107.2 39.0h0M35.0 22.4h0M155.2 122.3h0M4.3 111.1h0M52.8 40.7h0M128.1 45.5h0M54.1 80.0h0M43.4 27.6h0M37.1 12.7h0M107.6 155.9h0M152.0 -0.9h0M152.0 162.1h0M63.7 31.9h0M143.0 27.6h0M32.1 75.4h0M101.6 53.2h0M132.0 132.6h0M46.0 22.5h0M107.5 -3.2h0M107.5 159.8h0M94.3 128.3h0M113.5 135.5h0M134.8 12.5h0M-0.1 58.9h0M162.9 58.9h0M13.4 127.6h0M71.8 102.2h0M83.5 67.1h0M115.6 132.4h0M-1.2 39.0h0M161.8 39.0h0M17.8 10.6h0M155.0 56.6h0M113.2 14.3h0M116.1 67.8h0M93.9 68.8h0M2.3 100.1h0M165.3 100.1h0M71.2 116.4h0M154.9 27.5h0M38.7 99.4h0M66.9 51.4h0M28.4 155.4h0M108.6 -2.7h0M108.6 160.3h0M32.9 94.4h0M76.6 82.1h0M39.6 108.8h0M19.4 107.4h0M42.1 12.2h0M29.6 44.6h0M26.9 32.3h0M5.3 98.6h0M10.6 88.0h0M15.4 107.5h0M14.2 131.1h0M101.7 83.7h0M51.0 84.2h0M8.9 10.3h0M90.3 57.7h0M26.6 54.6h0M145.9 81.6h0M33.4 103.5h0M153.6 13.8h0M31.6 45.2h0M86.6 34.7h0M86.7 32.6h0M132.8 38.2h0M63.3 139.7h0M38.1 39.2h0M125.4 43.3h0M90.6 136.0h0M142.8 89.8h0M32.8 21.5h0M7.2 143.2h0M23.0 76.6h0M0.5 41.8h0M163.5 41.8h0M18.6 26.1h0M93.2 -2.8h0M93.2 160.2h0M38.4 48.5h0M34.6 48.2h0M7.9 95.6h0M147.6 4.7h0M74.6 83.5h0M48.2 122.6h0M48.6 155.1h0M111.4 112.4h0M75.6 42.3h0M149.7 2.6h0M149.7 165.6h0M52.3 93.4h0M96.1 45.8h0M49.5 138.0h0M145.1 132.0h0M85.9 71.5h0M78.9 89.4h0M119.5 36.6h0M71.8 48.6h0M63.2 59.2h0M12.7 33.6h0M137.1 152.3h0M80.4 148.0h0M81.2 39.5h0M154.0 79.8h0M77.2 71.2h0M61.4 143.7h0M98.1 144.3h0M26.9 -0.6h0M26.9 162.4h0M20.0 63.9h0M131.9 50.3h0M113.6 36.9h0M21.8 141.5h0M45.9 66.0h0M132.9 18.4h0M46.2 20.0h0M141.7 138.8h0M128.1 0.4h0M128.1 163.4h0M149.5 148.4h0M138.9 133.5h0M22.1 66.7h0M135.6 12.4h0M47.7 45.0h0M97.3 21.3h0M89.3 40.6h0M66.8 43.8h0M105.8 12.8h0M91.3 75.9h0M32.2 68.9h0M51.5 152.0h0M49.8 53.0h0M47.9 139.8h0M72.7 133.6h0M8.1 30.7h0M11.3 84.4h0M99.2 99.3h0M11.2 38.0h0M137.8 157.8h0M40.6 154.5h0M34.5 1.0h0M34.5 164.0h0M102.1 68.2h0M144.4 116.2h0M140.2 144.1h0M47.0 86.5h0M67.0 110.2h0M37.1 136.8h0M47.6 2.1h0M47.6 165.1h0M16.7 112.8h0M62.2 135.9h0M80.0 137.5h0M124.3 60.0h0" stroke-opacity="0.198"/><path d="M80.2 36.3h0M52.4 71.6h0M72.9 89.4h0M77.3 5.4h0M84.2 148.3h0M97.7 24.7h0M66.1 43.4h0M157.7 148.4h0M50.5 114.9h0M12.4 18.1h0M107.0 109.7h0M71.7 141.7h0M89.7 115.7h0M116.6 152.6h0M148.6 67.1h0M55.1 45.2h0M34.8 70.3h0M26.3 135.0h0M32.3 40.2h0M112.4 2.9h0M112.4 165.9h0M11.1 37.2h0M99.4 132.9h0M66.3 43.8h0M-3.3 140.1h0M159.7 140.1h0M33.2 65.2h0M40.5 101.5h0M31.7 113.3h0M132.2 9.4h0M61.2 -0.7h0M61.2 162.3h0M112.0 120.2h0M32.8 60.9h0M141.0 145.5h0M35.0 149.2h0M33.0 132.7h0M61.6 158.7h0M104.0 118.2h0M127.8 17.8h0M64.7 127.2h0M117.1 6.8h0M112.7 158.5h0M147.2 91.1h0M69.2 -3.8h0M69.2 159.2h0M50.5 3.3h0M50.5 166.3h0M1.0 8.8h0M164.0 8.8h0M88.3 50.0h0M43.3 44.9h0M45.6 -2.3h0M45.6 160.7h0M130.2 82.2h0M149.2 5.7h0M13.9 142.9h0M69.1 109.5h0M62.9 121.4h0M44.9 53.9h0M111.7 43.8h0M124.8 27.2h0M104.4 69.5h0M29.1 157.7h0M75.9 132.4h0M131.7 99.0h0M144.1 90.1h0M68.6 15.7h0M137.5 15.7h0M120.8 54.4h0M154.1 92.4h0M102.1 59.5h0M37.9 120.9h0M54.2 106.2h0M110.7 148.1h0M119.0 92.8h0M130.3 129.3h0M135.9 -2.1h0M135.9 160.9h0M-1.7 81.7h0M161.3 81.7h0M75.7 128.4h0M139.0 44.2h0M109.4 143.4h0M148.2 137.9h0M90.7 99.5h0M47.8 49.2h0M158.0 16.5h0M-2.0 15.1h0M161.0 15.1h0M43.0 83.1h0M26.3 66.4h0M96.7 44.3h0M2.2 153.1h0M165.2 153.1h0M44.6 118.4h0M13.7 52.7h0M68.6 76.4h0M135.3 35.6h0M71.5 -3.8h0M71.5 159.2h0M114.3 20.5h0M98.6 25.4h0M-1.6 29.8h0M161.4 29.8h0M-3.3 90.1h0M159.7 90.1h0M92.9 62.6h0M79.3 29.1h0M156.9 24.8h0M49.0 68.3h0M94.3 48.7h0M100.9 55.8h0M67.0 62.7h0M105.8 55.6h0M143.1 19.0h0M104.3 107.8h0M48.2 31.9h0M77.9 30.8h0M33.1 140.4h0M126.3 148.7h0M25.9 -0.3h0M25.9 162.7h0M43.0 41.1h0M148.1 153.4h0M40.3 111.2h0M76.1 143.1h0M15.5 53.4h0M78.3 29.9h0M128.0 138.2h0M4.4 89.8h0M6.0 74.9h0M24.4 139.5h0M86.3 76.2h0M95.1 131.7h0M8.3 3.9h0M8.3 166.9h0M114.0 -2.6h0M114.0 160.4h0M106.9 115.2h0M50.9 51.9h0M122.0 105.2h0M145.8 155.6h0M59.3 52.8h0M88.0 95.5h0M118.1 24.9h0M24.1 120.0h0M99.5 122.7h0M53.4 22.4h0M97.1 72.2h0M74.9 99.1h0M2.0 135.6h0M165.0 135.6h0M146.9 34.8h0M52.4 108.4h0M3.2 89.0h0M166.2 89.0h0M98.0 43.6h0M81.6 40.3h0M41.1 8.6h0M130.3 20.2h0M28.6 86.0h0M87.7 81.6h0M126.2 7.5h0M114.7 146.4h0M29.4 139.2h0M78.3 60.4h0M112.8 117.6h0M53.7 92.7h0M141.4 49.4h0M11.4 3.4h0M11.4 166.4h0M111.8 67.3h0M154.1 2.2h0M154.1 165.2h0M80.6 45.0h0M60.6 111.1h0M146.1 40.4h0M76.2 30.0h0M74.4 104.9h0M149.0 37.3h0M120.6 76.5h0M119.8 -1.2h0M119.8 161.8h0M59.7 13.8h0M29.6 9.9h0M106.9 52.6h0M105.4 134.0h0M134.4 137.8h0M20.0 41.6h0M158.7 62.5h0M7.4 131.7h0M3.2 5.7h0M166.2 5.7h0M38.8 54.8h0M156.2 50.0h0M155.3 8.2h0M47.2 31.7h0M30.7 87.9h0M74.1 138.0h0M11.1 74.8h0M64.7 154.2h0M86.9 111.8h0M113.8 61.4h0M116.3 144.2h0" stroke-opacity="0.297"/><path d="M95.1 143.2h0M11.5 18.1h0M108.1 90.1h0M120.8 13.3h0M-0.1 42.5h0M162.9 42.5h0M98.9 9.0h0M91.1 103.3h0M136.4 89.1h0M33.2 81.6h0M58.8 38.9h0M84.8 48.4h0M116.5 81.1h0M106.5 52.3h0M97.0 95.0h0M70.8 14.4h0M22.3 148.4h0M136.4 26.8h0M115.1 70.7h0M0.3 96.7h0M163.3 96.7h0M87.8 9.4h0M148.2 33.7h0M-0.5 133.9h0M162.5 133.9h0M35.4 122.7h0M130.9 79.8h0M146.6 134.1h0M100.9 144.5h0M0.9 125.8h0M163.9 125.8h0M-3.8 69.5h0M159.2 69.5h0M35.6 15.0h0M133.7 33.6h0M18.5 57.4h0M84.2 102.6h0M105.2 87.3h0M0.4 152.1h0M163.4 152.1h0M40.5 148.7h0M68.5 79.5h0M57.5 135.5h0M53.7 34.5h0M140.4 49.0h0M100.0 152.7h0M112.2 113.6h0M66.9 141.1h0M157.7 101.1h0M21.3 53.9h0M47.6 97.9h0M131.3 68.7h0M77.1 18.2h0M141.6 89.7h0M134.7 40.1h0M7.5 104.7h0M42.2 42.3h0M108.2 2.5h0M108.2 165.5h0M0.6 69.9h0M163.6 69.9h0M-2.8 45.1h0M160.2 45.1h0M118.5 146.8h0M124.8 93.4h0M154.1 118.5h0M25.2 56.1h0M109.8 24.9h0M17.9 35.9h0M36.3 143.8h0M22.3 118.1h0M48.0 26.3h0M87.6 101.8h0M43.7 19.4h0M99.8 62.4h0M7.4 94.5h0M32.8 112.4h0M36.1 90.8h0M154.5 5.4h0M145.8 9.9h0M136.2 26.6h0M109.8 136.7h0M111.3 81.9h0M12.9 52.0h0M7.7 31.2h0M97.5 111.5h0M5.5 20.5h0M43.9 112.7h0M50.6 46.9h0M14.1 105.5h0M100.5 151.7h0M138.6 89.3h0" stroke-opacity="0.396"/></g></pattern></defs><rect width="988" height="986" fill="#fff"/><filter id="bl" x="-5%" y="-5%" width="110%" height="110%"><feGaussianBlur stdDeviation="0.7"/></filter><g clip-path="url(#reg)"><rect x="100" y="380" width="850" height="520" fill="#1f77b4" fill-opacity="0.05"/><g filter="url(#bl)"><rect x="100" y="380" width="850" height="520" fill="url(#tex0)"/><rect x="100" y="380" width="850" height="520" fill="url(#tex1)"/><rect x="100" y="380" width="850" height="520" fill="url(#tex2)"/></g><defs><radialGradient id="core"><stop offset="0" stop-color="#1f77b4" stop-opacity="0.35"/><stop offset="1" stop-color="#1f77b4" stop-opacity="0"/></radialGradient><radialGradient id="hole"><stop offset="0" stop-color="#fff" stop-opacity="1"/><stop offset="0.6" stop-color="#fff" stop-opacity="0.9"/><stop offset="1" stop-color="#fff" stop-opacity="0"/></radialGradient></defs><circle cx="531" cy="492" r="34" fill="url(#core)" opacity="0.7"/><circle cx="533" cy="498" r="9" fill="url(#core)" opacity="1.5"/><circle cx="533" cy="499" r="6" fill="url(#core)"/><circle cx="712" cy="437" r="9" fill="url(#hole)"/><g fill="#1f77b4" filter="url(#bl)"><ellipse cx="309.5" cy="786" rx="3.6" ry="8.5" transform="rotate(-8 309.5 786)" fill-opacity="0.5"/><circle cx="301" cy="792.5" r="3.6" fill-opacity="0.5"/><circle cx="323" cy="792" r="4" fill-opacity="0.3"/></g></g><path d="M248,404.8 L285,404.5" stroke="#1f77b4" stroke-opacity="0.85" stroke-width="4.4" stroke-linecap="round" fill="none"/><path d="M285,404.5 L304,404.3" stroke="#1f77b4" stroke-opacity="0.35" stroke-width="4.4" stroke-linecap="round" fill="none"/><path d="M304,404.3 L380,403.7" stroke="#1f77b4" stroke-opacity="0.85" stroke-width="4.4" stroke-linecap="round" fill="none"/><path d="M686,401.7 L717,402.0" stroke="#1f77b4" stroke-opacity="0.45" stroke-width="4.4" stroke-linecap="round" fill="none"/><path d="M735,403.2 L768,403.6" stroke="#1f77b4" stroke-opacity="0.85" stroke-width="4.4" stroke-linecap="round" fill="none"/><path d="M772,404.3 L800,404.8" stroke="#1f77b4" stroke-opacity="0.9" stroke-width="4.4" stroke-linecap="round" fill="none"/><path d="M805,405.6 L832,406.0" stroke="#1f77b4" stroke-opacity="0.9" stroke-width="4.4" stroke-linecap="round" fill="none"/><path d="M842,405.8 L916,408.4" stroke="#1f77b4" stroke-opacity="0.92" stroke-width="4.4" stroke-linecap="round" fill="none"/><g fill="none" stroke-width="4.17" stroke-linejoin="round"><path d="M530.71,871.77 L537.57,871.71 L544.43,871.53 L551.29,871.23 L558.14,870.82 L564.98,870.28 L571.81,869.62 L578.63,868.85 L585.44,867.95 L592.23,866.94 L599.00,865.81 L605.75,864.56 L612.47,863.20 L619.18,861.71 L625.85,860.11 L632.50,858.40 L639.11,856.56 L645.69,854.62 L652.24,852.55 L658.75,850.38 L665.22,848.09 L671.65,845.69 L678.04,843.18 L684.38,840.55 L690.67,837.82 L696.92,834.97 L703.12,832.02 L709.26,828.96 L715.35,825.79 L721.38,822.52 L727.36,819.14 L733.28,815.66 L739.13,812.08 L744.92,808.39 L750.65,804.60 L756.30,800.72 L761.89,796.73 L767.41,792.65 L772.86,788.48 L778.23,784.21 L783.53,779.84 L788.75,775.39 L793.90,770.84 L798.96,766.21 L803.94,761.48 L808.84,756.67 L813.65,751.78 L818.38,746.80 L823.02,741.74 L827.57,736.60 L832.03,731.39 L836.40,726.09 L840.68,720.72 L844.86,715.28 L848.94,709.76 L852.93,704.17 L856.82,698.52 L860.61,692.80 L864.31,687.01 L867.90,681.16 L871.38,675.24 L874.77,669.27 L878.04,663.24 L881.22,657.15 L884.28,651.01 L887.24,644.81 L890.09,638.57 L892.83,632.28 L895.46,625.93 L897.98,619.55 L900.39,613.12 L902.68,606.65 L904.86,600.14 L906.93,593.59 L908.89,587.01 L910.72,580.40 L912.45,573.75 L914.05,567.08 L915.54,560.37 L916.91,553.65 L918.17,546.90 L919.30,540.13 L920.32,533.34 L921.22,526.53 L922.00,519.71 L922.66,512.88 L923.21,506.03 L923.63,499.18 L923.93,492.32 L924.12,485.46 L924.18,478.59 L924.12,471.73 L923.95,464.86 L923.65,458.00 L923.23,451.15 L922.70,444.31 L922.04,437.47 L921.27,430.65 L920.38,423.84 L919.37,417.05 L918.24,410.28 L916.99,403.53 L915.62,396.80 L914.14,390.09 L912.54,383.42 L910.83,376.77 L908.99,370.15 L907.05,363.57 L904.98,357.02 L902.81,350.50 L900.52,344.03 L898.12,337.60 L895.61,331.21 L892.98,324.86 L890.25,318.56 L887.40,312.31 L884.45,306.12 L881.39,299.97 L878.22,293.88 L874.95,287.84 L871.57,281.86 L868.09,275.94 L864.50,270.09 L860.81,264.30 L857.03,258.57 L853.14,252.91 L849.15,247.31 L845.07,241.79 L840.89,236.34 L836.62,230.97 L832.26,225.67 L827.80,220.44 L823.25,215.30 L818.61,210.23 L813.89,205.25 L809.08,200.35 L804.18,195.54 L799.20,190.81 L794.14,186.17 L789.00,181.61 L783.78,177.15 L778.48,172.78 L773.11,168.50 L767.66,164.32 L762.15,160.23 L756.56,156.25 L750.90,152.35 L745.17,148.56 L739.38,144.87 L733.53,141.28 L727.61,137.79 L721.64,134.41 L715.60,131.13 L709.51,127.96 L703.37,124.89 L697.17,121.93 L690.92,119.08 L684.63,116.34 L678.28,113.71 L671.89,111.19 L665.46,108.79 L658.99,106.49 L652.48,104.31 L645.93,102.24 L639.35,100.29 L632.73,98.45 L626.08,96.73 L619.40,95.13 L612.70,93.64 L605.97,92.27 L599.22,91.01 L592.45,89.88 L585.65,88.86 L578.85,87.96 L572.02,87.19 L565.19,86.53 L558.34,85.99 L551.49,85.56 L544.63,85.26 L537.76,85.08 L530.89,85.02 L524.03,85.08 L517.16,85.26 L510.30,85.56 L503.45,85.97 L496.60,86.51 L489.76,87.17 L482.94,87.94 L476.13,88.84 L469.34,89.85 L462.57,90.99 L455.81,92.24 L449.08,93.60 L442.38,95.09 L435.70,96.69 L429.05,98.41 L422.43,100.24 L415.85,102.19 L409.30,104.26 L402.79,106.44 L396.31,108.73 L389.88,111.13 L383.49,113.65 L377.15,116.28 L370.85,119.01 L364.60,121.86 L358.40,124.82 L352.26,127.88 L346.16,131.05 L340.13,134.33 L334.15,137.71 L328.24,141.19 L322.38,144.78 L316.59,148.47 L310.86,152.26 L305.20,156.15 L299.61,160.14 L294.09,164.22 L288.64,168.40 L283.27,172.67 L277.97,177.04 L272.75,181.50 L267.61,186.05 L262.54,190.69 L257.56,195.42 L252.66,200.23 L247.85,205.13 L243.12,210.11 L238.48,215.17 L233.93,220.31 L229.48,225.53 L225.11,230.83 L220.83,236.21 L216.65,241.65 L212.57,247.17 L208.58,252.76 L204.69,258.42 L200.90,264.15 L197.21,269.94 L193.63,275.79 L190.14,281.71 L186.76,287.69 L183.48,293.72 L180.31,299.81 L177.25,305.96 L174.29,312.15 L171.45,318.40 L168.71,324.70 L166.08,331.04 L163.56,337.43 L161.16,343.86 L158.87,350.33 L156.69,356.85 L154.63,363.39 L152.68,369.98 L150.84,376.59 L149.12,383.24 L147.52,389.92 L146.03,396.62 L144.67,403.35 L143.41,410.10 L142.28,416.87 L141.27,423.66 L140.37,430.47 L139.59,437.29 L138.94,444.12 L138.40,450.97 L137.98,457.82 L137.68,464.68 L137.50,471.54 L137.44,478.41 L137.50,485.27 L137.68,492.14 L137.98,498.99 L138.40,505.85 L138.94,512.69 L139.60,519.52 L140.37,526.35 L141.27,533.15 L142.29,539.94 L143.42,546.71 L144.67,553.46 L146.04,560.19 L147.52,566.89 L149.13,573.57 L150.85,580.21 L152.68,586.83 L154.63,593.41 L156.70,599.96 L158.87,606.47 L161.17,612.94 L163.57,619.37 L166.09,625.76 L168.71,632.10 L171.45,638.39 L174.30,644.64 L177.25,650.84 L180.31,656.98 L183.48,663.07 L186.76,669.10 L190.14,675.08 L193.62,680.99 L197.21,686.84 L200.90,692.63 L204.69,698.36 L208.57,704.01 L212.56,709.60 L216.64,715.12 L220.82,720.57 L225.09,725.94 L229.46,731.24 L233.92,736.46 L238.47,741.60 L243.10,746.66 L247.83,751.64 L252.64,756.53 L257.53,761.34 L262.51,766.07 L267.57,770.71 L272.71,775.26 L277.93,779.71 L283.23,784.08 L288.60,788.35 L294.04,792.53 L299.56,796.62 L305.15,800.60 L310.81,804.49 L316.53,808.28 L322.32,811.97 L328.17,815.56 L334.08,819.04 L340.06,822.42 L346.09,825.70 L352.18,828.87 L358.32,831.93 L364.51,834.89 L370.76,837.73 L377.05,840.47 L383.39,843.10 L389.78,845.62 L396.21,848.02 L402.68,850.31 L409.19,852.49 L415.73,854.56 L422.31,856.51 L428.93,858.34 L435.57,860.06 L442.24,861.67 L448.94,863.15 L455.67,864.52 L462.42,865.78 L469.19,866.91 L475.98,867.93 L482.78,868.82 L489.60,869.60 L496.43,870.26 L503.27,870.80 L510.13,871.22 L516.98,871.52 L523.84,871.70Z" stroke="#8c564b"/><path d="M530.77,615.18 L533.15,615.16 L535.54,615.10 L537.92,615.00 L540.30,614.85 L542.68,614.67 L545.05,614.44 L547.43,614.17 L549.79,613.86 L552.15,613.51 L554.50,613.11 L556.85,612.68 L559.19,612.20 L561.52,611.69 L563.84,611.13 L566.14,610.53 L568.44,609.90 L570.73,609.22 L573.01,608.50 L575.27,607.75 L577.52,606.95 L579.75,606.12 L581.97,605.24 L584.18,604.33 L586.36,603.38 L588.54,602.39 L590.69,601.37 L592.82,600.30 L594.94,599.20 L597.04,598.06 L599.11,596.89 L601.17,595.68 L603.20,594.43 L605.22,593.15 L607.21,591.84 L609.17,590.49 L611.12,589.10 L613.03,587.68 L614.93,586.23 L616.79,584.75 L618.64,583.23 L620.45,581.68 L622.24,580.10 L624.00,578.49 L625.73,576.85 L627.43,575.18 L629.10,573.47 L630.74,571.74 L632.36,569.99 L633.94,568.20 L635.49,566.39 L637.01,564.55 L638.49,562.68 L639.94,560.79 L641.36,558.87 L642.75,556.93 L644.10,554.96 L645.42,552.97 L646.70,550.96 L647.95,548.93 L649.16,546.87 L650.34,544.80 L651.47,542.70 L652.58,540.59 L653.64,538.45 L654.67,536.30 L655.66,534.13 L656.61,531.94 L657.53,529.74 L658.40,527.52 L659.24,525.28 L660.03,523.03 L660.79,520.77 L661.51,518.50 L662.19,516.21 L662.83,513.91 L663.42,511.60 L663.98,509.28 L664.50,506.95 L664.98,504.61 L665.41,502.27 L665.81,499.92 L666.16,497.56 L666.47,495.19 L666.74,492.82 L666.97,490.45 L667.16,488.07 L667.31,485.69 L667.41,483.30 L667.47,480.92 L667.50,478.53 L667.48,476.15 L667.41,473.76 L667.31,471.38 L667.17,469.00 L666.98,466.62 L666.75,464.24 L666.48,461.87 L666.17,459.51 L665.82,457.15 L665.43,454.79 L664.99,452.45 L664.52,450.11 L664.00,447.78 L663.45,445.46 L662.85,443.15 L662.21,440.85 L661.54,438.56 L660.82,436.29 L660.06,434.02 L659.27,431.78 L658.43,429.54 L657.56,427.32 L656.65,425.12 L655.70,422.93 L654.71,420.76 L653.68,418.60 L652.62,416.47 L651.52,414.35 L650.38,412.25 L649.20,410.18 L647.99,408.12 L646.75,406.09 L645.47,404.07 L644.15,402.08 L642.80,400.12 L641.41,398.17 L640.00,396.25 L638.54,394.36 L637.06,392.49 L635.54,390.65 L633.99,388.84 L632.41,387.05 L630.80,385.29 L629.16,383.56 L627.49,381.86 L625.79,380.18 L624.06,378.54 L622.30,376.93 L620.51,375.35 L618.70,373.80 L616.86,372.28 L614.99,370.79 L613.10,369.34 L611.18,367.92 L609.24,366.53 L607.27,365.18 L605.28,363.86 L603.27,362.58 L601.24,361.34 L599.18,360.12 L597.10,358.95 L595.01,357.81 L592.89,356.71 L590.76,355.64 L588.60,354.61 L586.43,353.62 L584.25,352.67 L582.04,351.76 L579.82,350.88 L577.59,350.05 L575.34,349.25 L573.08,348.49 L570.80,347.77 L568.51,347.10 L566.21,346.46 L563.90,345.86 L561.58,345.30 L559.25,344.79 L556.92,344.31 L554.57,343.87 L552.22,343.48 L549.86,343.13 L547.49,342.81 L545.12,342.54 L542.75,342.31 L540.37,342.13 L537.99,341.98 L535.60,341.88 L533.22,341.81 L530.83,341.79 L528.45,341.81 L526.06,341.87 L523.68,341.98 L521.30,342.12 L518.92,342.31 L516.54,342.54 L514.17,342.81 L511.81,343.12 L509.45,343.47 L507.09,343.86 L504.75,344.30 L502.41,344.77 L500.08,345.29 L497.76,345.84 L495.45,346.44 L493.15,347.08 L490.86,347.76 L488.59,348.47 L486.32,349.23 L484.07,350.03 L481.84,350.86 L479.62,351.73 L477.41,352.65 L475.23,353.60 L473.05,354.59 L470.90,355.61 L468.77,356.68 L466.65,357.78 L464.55,358.92 L462.48,360.09 L460.42,361.30 L458.38,362.55 L456.37,363.83 L454.38,365.15 L452.42,366.50 L450.47,367.88 L448.56,369.30 L446.66,370.75 L444.79,372.24 L442.95,373.76 L441.14,375.31 L439.35,376.89 L437.59,378.50 L435.86,380.14 L434.16,381.81 L432.49,383.51 L430.84,385.24 L429.23,387.00 L427.65,388.79 L426.10,390.60 L424.58,392.44 L423.10,394.31 L421.64,396.20 L420.23,398.12 L418.84,400.06 L417.49,402.03 L416.17,404.02 L414.89,406.03 L413.64,408.07 L412.43,410.12 L411.26,412.20 L410.12,414.29 L409.01,416.41 L407.95,418.55 L406.92,420.70 L405.93,422.87 L404.98,425.06 L404.07,427.26 L403.19,429.48 L402.36,431.72 L401.56,433.96 L400.80,436.23 L400.09,438.50 L399.41,440.79 L398.77,443.09 L398.17,445.40 L397.61,447.72 L397.10,450.05 L396.62,452.39 L396.19,454.73 L395.79,457.08 L395.44,459.44 L395.13,461.81 L394.86,464.18 L394.63,466.55 L394.44,468.93 L394.29,471.31 L394.19,473.70 L394.13,476.08 L394.11,478.47 L394.13,480.85 L394.19,483.24 L394.29,485.62 L394.44,488.00 L394.62,490.38 L394.85,492.76 L395.12,495.13 L395.43,497.49 L395.79,499.85 L396.18,502.20 L396.61,504.55 L397.09,506.89 L397.61,509.22 L398.16,511.54 L398.76,513.85 L399.40,516.15 L400.07,518.43 L400.79,520.71 L401.55,522.97 L402.34,525.22 L403.18,527.46 L404.05,529.68 L404.96,531.88 L405.92,534.07 L406.90,536.24 L407.93,538.39 L409.00,540.53 L410.10,542.64 L411.23,544.74 L412.41,546.82 L413.62,548.87 L414.87,550.91 L416.15,552.92 L417.46,554.91 L418.81,556.87 L420.20,558.82 L421.62,560.73 L423.07,562.63 L424.55,564.49 L426.07,566.34 L427.62,568.15 L429.20,569.94 L430.81,571.70 L432.45,573.43 L434.13,575.13 L435.83,576.80 L437.56,578.44 L439.32,580.06 L441.10,581.64 L442.92,583.19 L444.76,584.70 L446.62,586.19 L448.52,587.64 L450.43,589.06 L452.37,590.45 L454.34,591.80 L456.33,593.12 L458.34,594.40 L460.38,595.64 L462.43,596.86 L464.51,598.03 L466.60,599.17 L468.72,600.27 L470.85,601.34 L473.01,602.36 L475.18,603.35 L477.36,604.31 L479.57,605.22 L481.79,606.09 L484.02,606.93 L486.27,607.73 L488.53,608.48 L490.81,609.20 L493.09,609.88 L495.39,610.52 L497.70,611.12 L500.02,611.67 L502.35,612.19 L504.69,612.67 L507.03,613.10 L509.39,613.50 L511.75,613.85 L514.11,614.16 L516.48,614.43 L518.86,614.66 L521.23,614.85 L523.61,614.99 L526.00,615.10 L528.38,615.16Z" stroke="#2ca02c"/><path d="M530.78,575.81 L532.48,575.80 L534.17,575.76 L535.87,575.68 L537.57,575.58 L539.26,575.45 L540.95,575.28 L542.64,575.09 L544.32,574.87 L546.00,574.62 L547.68,574.34 L549.35,574.03 L551.01,573.69 L552.67,573.32 L554.32,572.93 L555.96,572.50 L557.60,572.05 L559.23,571.57 L560.85,571.06 L562.46,570.52 L564.06,569.95 L565.65,569.36 L567.23,568.74 L568.80,568.09 L570.36,567.41 L571.91,566.71 L573.44,565.98 L574.96,565.22 L576.47,564.43 L577.96,563.62 L579.44,562.79 L580.90,561.93 L582.35,561.04 L583.78,560.13 L585.20,559.19 L586.60,558.23 L587.98,557.24 L589.35,556.23 L590.69,555.20 L592.02,554.14 L593.33,553.06 L594.63,551.96 L595.90,550.83 L597.15,549.69 L598.38,548.52 L599.60,547.33 L600.79,546.12 L601.96,544.89 L603.10,543.63 L604.23,542.36 L605.33,541.07 L606.41,539.76 L607.47,538.43 L608.51,537.08 L609.52,535.72 L610.50,534.34 L611.47,532.94 L612.40,531.52 L613.32,530.09 L614.20,528.64 L615.07,527.18 L615.90,525.70 L616.71,524.21 L617.50,522.70 L618.26,521.18 L618.99,519.65 L619.69,518.10 L620.37,516.55 L621.02,514.98 L621.65,513.40 L622.24,511.81 L622.81,510.21 L623.35,508.59 L623.86,506.98 L624.34,505.35 L624.80,503.71 L625.22,502.07 L625.62,500.41 L625.99,498.76 L626.33,497.09 L626.64,495.42 L626.92,493.75 L627.17,492.07 L627.39,490.38 L627.58,488.70 L627.75,487.00 L627.88,485.31 L627.98,483.62 L628.06,481.92 L628.10,480.22 L628.12,478.52 L628.11,476.82 L628.06,475.13 L627.99,473.43 L627.88,471.73 L627.75,470.04 L627.59,468.35 L627.40,466.66 L627.18,464.98 L626.93,463.30 L626.65,461.62 L626.34,459.95 L626.00,458.29 L625.63,456.63 L625.24,454.98 L624.81,453.33 L624.36,451.70 L623.88,450.07 L623.37,448.45 L622.83,446.84 L622.26,445.24 L621.67,443.64 L621.04,442.06 L620.39,440.49 L619.72,438.94 L619.01,437.39 L618.28,435.86 L617.53,434.34 L616.74,432.83 L615.93,431.34 L615.10,429.86 L614.23,428.39 L613.35,426.95 L612.43,425.51 L611.50,424.10 L610.54,422.70 L609.55,421.31 L608.54,419.95 L607.51,418.60 L606.45,417.27 L605.37,415.96 L604.27,414.67 L603.14,413.39 L601.99,412.14 L600.83,410.91 L599.63,409.70 L598.42,408.51 L597.19,407.34 L595.94,406.19 L594.67,405.06 L593.38,403.96 L592.07,402.88 L590.74,401.82 L589.39,400.79 L588.02,399.78 L586.64,398.79 L585.24,397.83 L583.83,396.89 L582.39,395.98 L580.95,395.09 L579.48,394.22 L578.00,393.39 L576.51,392.58 L575.01,391.79 L573.49,391.03 L571.95,390.30 L570.41,389.60 L568.85,388.92 L567.28,388.27 L565.70,387.65 L564.11,387.05 L562.51,386.48 L560.90,385.94 L559.28,385.43 L557.65,384.95 L556.01,384.50 L554.37,384.07 L552.72,383.67 L551.06,383.31 L549.39,382.97 L547.72,382.66 L546.05,382.38 L544.37,382.12 L542.68,381.90 L541.00,381.71 L539.31,381.55 L537.61,381.41 L535.92,381.31 L534.22,381.23 L532.52,381.19 L530.82,381.17 L529.12,381.19 L527.43,381.23 L525.73,381.31 L524.03,381.41 L522.34,381.54 L520.65,381.70 L518.96,381.90 L517.28,382.12 L515.60,382.37 L513.92,382.65 L512.25,382.96 L510.59,383.30 L508.93,383.66 L507.28,384.06 L505.63,384.48 L504.00,384.94 L502.37,385.42 L500.75,385.93 L499.14,386.47 L497.53,387.04 L495.94,387.63 L494.36,388.25 L492.79,388.90 L491.24,389.58 L489.69,390.28 L488.16,391.01 L486.64,391.77 L485.13,392.56 L483.64,393.37 L482.16,394.20 L480.69,395.06 L479.25,395.95 L477.81,396.86 L476.40,397.80 L475.00,398.76 L473.61,399.75 L472.25,400.76 L470.90,401.79 L469.57,402.85 L468.26,403.93 L466.97,405.03 L465.69,406.16 L464.44,407.31 L463.21,408.47 L462.00,409.67 L460.81,410.88 L459.64,412.11 L458.49,413.36 L457.36,414.63 L456.26,415.92 L455.18,417.23 L454.12,418.56 L453.09,419.91 L452.08,421.28 L451.09,422.66 L450.13,424.06 L449.19,425.47 L448.28,426.91 L447.39,428.36 L446.53,429.82 L445.69,431.30 L444.88,432.79 L444.10,434.30 L443.34,435.82 L442.61,437.35 L441.90,438.89 L441.22,440.45 L440.57,442.02 L439.95,443.60 L439.36,445.19 L438.79,446.79 L438.25,448.40 L437.74,450.02 L437.26,451.65 L436.80,453.29 L436.38,454.93 L435.98,456.59 L435.61,458.24 L435.27,459.91 L434.96,461.58 L434.68,463.25 L434.43,464.93 L434.21,466.62 L434.02,468.30 L433.85,470.00 L433.72,471.69 L433.62,473.38 L433.54,475.08 L433.50,476.78 L433.48,478.48 L433.50,480.18 L433.54,481.87 L433.61,483.57 L433.72,485.27 L433.85,486.96 L434.01,488.65 L434.20,490.34 L434.43,492.02 L434.68,493.70 L434.96,495.38 L435.27,497.05 L435.60,498.71 L435.97,500.37 L436.37,502.02 L436.79,503.67 L437.25,505.30 L437.73,506.93 L438.24,508.55 L438.78,510.16 L439.34,511.76 L439.94,513.35 L440.56,514.93 L441.21,516.50 L441.89,518.06 L442.59,519.61 L443.32,521.14 L444.08,522.66 L444.86,524.17 L445.67,525.66 L446.51,527.14 L447.37,528.60 L448.26,530.05 L449.17,531.48 L450.11,532.90 L451.07,534.30 L452.06,535.68 L453.07,537.05 L454.10,538.40 L455.16,539.72 L456.24,541.04 L457.34,542.33 L458.47,543.60 L459.61,544.85 L460.78,546.08 L461.97,547.30 L463.18,548.49 L464.42,549.66 L465.67,550.80 L466.94,551.93 L468.23,553.03 L469.54,554.11 L470.87,555.17 L472.22,556.20 L473.58,557.22 L474.96,558.20 L476.36,559.16 L477.78,560.10 L479.21,561.01 L480.66,561.90 L482.12,562.76 L483.60,563.60 L485.09,564.41 L486.60,565.20 L488.12,565.96 L489.65,566.69 L491.20,567.39 L492.76,568.07 L494.32,568.72 L495.90,569.34 L497.50,569.94 L499.10,570.50 L500.71,571.04 L502.33,571.55 L503.95,572.04 L505.59,572.49 L507.24,572.92 L508.89,573.31 L510.55,573.68 L512.21,574.02 L513.88,574.33 L515.55,574.61 L517.23,574.86 L518.92,575.09 L520.61,575.28 L522.30,575.44 L523.99,575.57 L525.68,575.68 L527.38,575.75 L529.08,575.80Z" stroke="#2ca02c" stroke-dasharray="15.42 6.67" stroke-linecap="butt"/></g><path d="M518.6999999999999,479.0 H543.1 M530.9,466.8 V491.2" stroke="#d62728" stroke-width="4.17" fill="none"/><g clip-path="url(#ax)" fill="none" stroke="#000" stroke-opacity="0.26" stroke-width="1.67" stroke-dasharray="6.17 2.67"><path d="M92.90,169.69 L100.26,169.42 L107.62,169.15 L114.98,168.89 L122.35,168.64 L129.71,168.39 L137.07,168.14 L144.43,167.90 L151.79,167.66 L159.15,167.43 L166.51,167.20 L173.87,166.98 L181.24,166.76 L188.60,166.54 L195.96,166.33 L203.32,166.13 L210.68,165.93 L218.04,165.73 L225.40,165.54 L232.77,165.35 L240.13,165.17 L247.49,164.99 L254.85,164.82 L262.21,164.65 L269.57,164.49 L276.93,164.33 L284.29,164.17 L291.66,164.02 L299.02,163.88 L306.38,163.74 L313.74,163.60 L321.10,163.47 L328.46,163.34 L335.82,163.22 L343.19,163.10 L350.55,162.99 L357.91,162.88 L365.27,162.78 L372.63,162.68 L379.99,162.58 L387.35,162.49 L394.72,162.41 L402.08,162.32 L409.44,162.25 L416.80,162.18 L424.16,162.11 L431.52,162.05 L438.88,161.99 L446.24,161.93 L453.61,161.88 L460.97,161.84 L468.33,161.80 L475.69,161.77 L483.05,161.73 L490.41,161.71 L497.77,161.69 L505.14,161.67 L512.50,161.66 L519.86,161.65 L527.22,161.65 L534.58,161.65 L541.94,161.66 L549.30,161.67 L556.66,161.68 L564.03,161.70 L571.39,161.73 L578.75,161.76 L586.11,161.79 L593.47,161.83 L600.83,161.87 L608.19,161.92 L615.56,161.97 L622.92,162.03 L630.28,162.09 L637.64,162.15 L645.00,162.23 L652.36,162.30 L659.72,162.38 L667.08,162.46 L674.45,162.55 L681.81,162.65 L689.17,162.75 L696.53,162.85 L703.89,162.96 L711.25,163.07 L718.61,163.18 L725.98,163.30 L733.34,163.43 L740.70,163.56 L748.06,163.70 L755.42,163.84 L762.78,163.98 L770.14,164.13 L777.51,164.28 L784.87,164.44 L792.23,164.60 L799.59,164.77 L806.95,164.94 L814.31,165.12 L821.67,165.30 L829.03,165.48 L836.40,165.67 L843.76,165.87 L851.12,166.07 L858.48,166.27 L865.84,166.48 L873.20,166.69 L880.56,166.91 L887.93,167.13 L895.29,167.36 L902.65,167.59 L910.01,167.83 L917.37,168.07 L924.73,168.31 L932.09,168.56 L939.45,168.82 L946.82,169.07 L954.18,169.34 L961.54,169.61 L968.90,169.88" stroke-dashoffset="2.52"/><path d="M92.90,389.38 L100.26,389.09 L107.62,388.80 L114.98,388.52 L122.35,388.24 L129.71,387.97 L137.07,387.70 L144.43,387.44 L151.79,387.18 L159.15,386.93 L166.51,386.68 L173.87,386.44 L181.24,386.20 L188.60,385.97 L195.96,385.74 L203.32,385.52 L210.68,385.30 L218.04,385.09 L225.40,384.88 L232.77,384.68 L240.13,384.48 L247.49,384.28 L254.85,384.10 L262.21,383.91 L269.57,383.74 L276.93,383.56 L284.29,383.39 L291.66,383.23 L299.02,383.07 L306.38,382.92 L313.74,382.77 L321.10,382.63 L328.46,382.49 L335.82,382.36 L343.19,382.23 L350.55,382.11 L357.91,381.99 L365.27,381.88 L372.63,381.77 L379.99,381.66 L387.35,381.57 L394.72,381.47 L402.08,381.39 L409.44,381.30 L416.80,381.22 L424.16,381.15 L431.52,381.08 L438.88,381.02 L446.24,380.96 L453.61,380.91 L460.97,380.86 L468.33,380.82 L475.69,380.78 L483.05,380.75 L490.41,380.72 L497.77,380.69 L505.14,380.68 L512.50,380.66 L519.86,380.65 L527.22,380.65 L534.58,380.65 L541.94,380.66 L549.30,380.67 L556.66,380.69 L564.03,380.71 L571.39,380.74 L578.75,380.77 L586.11,380.80 L593.47,380.85 L600.83,380.89 L608.19,380.94 L615.56,381.00 L622.92,381.06 L630.28,381.13 L637.64,381.20 L645.00,381.28 L652.36,381.36 L659.72,381.45 L667.08,381.54 L674.45,381.63 L681.81,381.74 L689.17,381.84 L696.53,381.95 L703.89,382.07 L711.25,382.19 L718.61,382.32 L725.98,382.45 L733.34,382.59 L740.70,382.73 L748.06,382.87 L755.42,383.03 L762.78,383.18 L770.14,383.34 L777.51,383.51 L784.87,383.68 L792.23,383.86 L799.59,384.04 L806.95,384.23 L814.31,384.42 L821.67,384.61 L829.03,384.82 L836.40,385.02 L843.76,385.23 L851.12,385.45 L858.48,385.67 L865.84,385.90 L873.20,386.13 L880.56,386.36 L887.93,386.61 L895.29,386.85 L902.65,387.10 L910.01,387.36 L917.37,387.62 L924.73,387.89 L932.09,388.16 L939.45,388.43 L946.82,388.71 L954.18,389.00 L961.54,389.29 L968.90,389.59" stroke-dashoffset="2.30"/><path d="M92.90,608.80 L100.26,608.48 L107.62,608.17 L114.98,607.86 L122.35,607.56 L129.71,607.27 L137.07,606.98 L144.43,606.70 L151.79,606.42 L159.15,606.14 L166.51,605.88 L173.87,605.61 L181.24,605.36 L188.60,605.10 L195.96,604.86 L203.32,604.62 L210.68,604.38 L218.04,604.15 L225.40,603.92 L232.77,603.70 L240.13,603.49 L247.49,603.28 L254.85,603.08 L262.21,602.88 L269.57,602.69 L276.93,602.50 L284.29,602.32 L291.66,602.14 L299.02,601.97 L306.38,601.81 L313.74,601.65 L321.10,601.49 L328.46,601.34 L335.82,601.20 L343.19,601.06 L350.55,600.93 L357.91,600.80 L365.27,600.68 L372.63,600.56 L379.99,600.45 L387.35,600.34 L394.72,600.24 L402.08,600.14 L409.44,600.05 L416.80,599.97 L424.16,599.89 L431.52,599.82 L438.88,599.75 L446.24,599.69 L453.61,599.63 L460.97,599.58 L468.33,599.53 L475.69,599.49 L483.05,599.45 L490.41,599.42 L497.77,599.40 L505.14,599.38 L512.50,599.36 L519.86,599.35 L527.22,599.35 L534.58,599.35 L541.94,599.36 L549.30,599.37 L556.66,599.39 L564.03,599.41 L571.39,599.44 L578.75,599.48 L586.11,599.52 L593.47,599.56 L600.83,599.61 L608.19,599.67 L615.56,599.73 L622.92,599.80 L630.28,599.87 L637.64,599.94 L645.00,600.03 L652.36,600.12 L659.72,600.21 L667.08,600.31 L674.45,600.41 L681.81,600.52 L689.17,600.64 L696.53,600.76 L703.89,600.89 L711.25,601.02 L718.61,601.15 L725.98,601.30 L733.34,601.44 L740.70,601.60 L748.06,601.76 L755.42,601.92 L762.78,602.09 L770.14,602.26 L777.51,602.44 L784.87,602.63 L792.23,602.82 L799.59,603.02 L806.95,603.22 L814.31,603.43 L821.67,603.64 L829.03,603.86 L836.40,604.08 L843.76,604.31 L851.12,604.54 L858.48,604.78 L865.84,605.03 L873.20,605.28 L880.56,605.53 L887.93,605.79 L895.29,606.06 L902.65,606.33 L910.01,606.61 L917.37,606.89 L924.73,607.18 L932.09,607.47 L939.45,607.77 L946.82,608.08 L954.18,608.39 L961.54,608.70 L968.90,609.02" stroke-dashoffset="2.40"/><path d="M92.90,828.48 L100.26,828.13 L107.62,827.80 L114.98,827.47 L122.35,827.14 L129.71,826.83 L137.07,826.51 L144.43,826.21 L151.79,825.91 L159.15,825.61 L166.51,825.32 L173.87,825.04 L181.24,824.76 L188.60,824.49 L195.96,824.22 L203.32,823.96 L210.68,823.71 L218.04,823.46 L225.40,823.22 L232.77,822.98 L240.13,822.75 L247.49,822.52 L254.85,822.30 L262.21,822.09 L269.57,821.88 L276.93,821.68 L284.29,821.48 L291.66,821.29 L299.02,821.11 L306.38,820.93 L313.74,820.76 L321.10,820.59 L328.46,820.43 L335.82,820.27 L343.19,820.12 L350.55,819.98 L357.91,819.84 L365.27,819.71 L372.63,819.58 L379.99,819.46 L387.35,819.35 L394.72,819.24 L402.08,819.13 L409.44,819.04 L416.80,818.95 L424.16,818.86 L431.52,818.78 L438.88,818.71 L446.24,818.64 L453.61,818.58 L460.97,818.52 L468.33,818.47 L475.69,818.43 L483.05,818.39 L490.41,818.35 L497.77,818.33 L505.14,818.31 L512.50,818.29 L519.86,818.28 L527.22,818.28 L534.58,818.28 L541.94,818.29 L549.30,818.30 L556.66,818.32 L564.03,818.35 L571.39,818.38 L578.75,818.41 L586.11,818.46 L593.47,818.50 L600.83,818.56 L608.19,818.62 L615.56,818.69 L622.92,818.76 L630.28,818.84 L637.64,818.92 L645.00,819.01 L652.36,819.10 L659.72,819.21 L667.08,819.31 L674.45,819.43 L681.81,819.54 L689.17,819.67 L696.53,819.80 L703.89,819.94 L711.25,820.08 L718.61,820.23 L725.98,820.38 L733.34,820.54 L740.70,820.70 L748.06,820.88 L755.42,821.05 L762.78,821.23 L770.14,821.42 L777.51,821.62 L784.87,821.82 L792.23,822.02 L799.59,822.24 L806.95,822.45 L814.31,822.68 L821.67,822.91 L829.03,823.14 L836.40,823.38 L843.76,823.63 L851.12,823.88 L858.48,824.14 L865.84,824.41 L873.20,824.68 L880.56,824.95 L887.93,825.23 L895.29,825.52 L902.65,825.82 L910.01,826.11 L917.37,826.42 L924.73,826.73 L932.09,827.05 L939.45,827.37 L946.82,827.70 L954.18,828.03 L961.54,828.37 L968.90,828.72" stroke-dashoffset="2.26"/><path d="M243.46,40.80 L243.85,55.64 L244.24,70.49 L244.63,85.33 L245.02,100.18 L245.41,115.02 L245.80,129.86 L246.19,144.71 L246.58,159.55 L246.97,174.40 L247.36,189.24 L247.75,204.08 L248.14,218.93 L248.53,233.77 L248.92,248.62 L249.31,263.46 L249.70,278.31 L250.09,293.15 L250.48,307.99 L250.87,322.84 L251.26,337.68 L251.65,352.53 L252.04,367.37 L252.43,382.21 L252.82,397.06 L253.22,411.90 L253.61,426.75 L254.00,441.59 L254.39,456.43 L254.78,471.28 L255.17,486.12 L255.56,500.97 L255.95,515.81 L256.34,530.65 L256.73,545.50 L257.12,560.34 L257.51,575.19 L257.90,590.03 L258.29,604.87 L258.68,619.72 L259.07,634.56 L259.46,649.41 L259.85,664.25 L260.24,679.09 L260.63,693.94 L261.02,708.78 L261.41,723.63 L261.80,738.47 L262.19,753.32 L262.58,768.16 L262.97,783.00 L263.37,797.85 L263.76,812.69 L264.15,827.54 L264.54,842.38 L264.93,857.22 L265.32,872.07 L265.71,886.91 L266.10,901.76 L266.49,916.60" stroke-dashoffset="5.06"/><path d="M488.14,40.80 L488.19,55.64 L488.25,70.49 L488.30,85.33 L488.36,100.18 L488.41,115.02 L488.47,129.86 L488.52,144.71 L488.58,159.55 L488.63,174.40 L488.69,189.24 L488.74,204.08 L488.80,218.93 L488.85,233.77 L488.91,248.62 L488.96,263.46 L489.02,278.31 L489.08,293.15 L489.13,307.99 L489.19,322.84 L489.24,337.68 L489.30,352.53 L489.35,367.37 L489.41,382.21 L489.46,397.06 L489.52,411.90 L489.57,426.75 L489.63,441.59 L489.68,456.43 L489.74,471.28 L489.79,486.12 L489.85,500.97 L489.90,515.81 L489.96,530.65 L490.01,545.50 L490.07,560.34 L490.12,575.19 L490.18,590.03 L490.23,604.87 L490.29,619.72 L490.34,634.56 L490.40,649.41 L490.45,664.25 L490.51,679.09 L490.56,693.94 L490.62,708.78 L490.67,723.63 L490.73,738.47 L490.78,753.32 L490.84,768.16 L490.89,783.00 L490.95,797.85 L491.00,812.69 L491.06,827.54 L491.11,842.38 L491.17,857.22 L491.22,872.07 L491.28,886.91 L491.33,901.76 L491.39,916.60" stroke-dashoffset="5.14"/><path d="M732.67,40.80 L732.39,55.64 L732.11,70.49 L731.83,85.33 L731.55,100.18 L731.27,115.02 L730.99,129.86 L730.71,144.71 L730.43,159.55 L730.15,174.40 L729.87,189.24 L729.59,204.08 L729.31,218.93 L729.03,233.77 L728.75,248.62 L728.47,263.46 L728.19,278.31 L727.91,293.15 L727.63,307.99 L727.35,322.84 L727.07,337.68 L726.79,352.53 L726.51,367.37 L726.23,382.21 L725.95,397.06 L725.67,411.90 L725.39,426.75 L725.11,441.59 L724.83,456.43 L724.55,471.28 L724.27,486.12 L723.99,500.97 L723.71,515.81 L723.43,530.65 L723.15,545.50 L722.87,560.34 L722.59,575.19 L722.31,590.03 L722.03,604.87 L721.75,619.72 L721.47,634.56 L721.19,649.41 L720.91,664.25 L720.63,679.09 L720.35,693.94 L720.07,708.78 L719.79,723.63 L719.51,738.47 L719.23,753.32 L718.95,768.16 L718.67,783.00 L718.39,797.85 L718.11,812.69 L717.83,827.54 L717.55,842.38 L717.27,857.22 L716.99,872.07 L716.71,886.91 L716.43,901.76 L716.15,916.60" stroke-dashoffset="5.10"/><path d="M977.98,40.80 L977.36,55.64 L976.75,70.49 L976.13,85.33 L975.51,100.18 L974.90,115.02 L974.28,129.86 L973.66,144.71 L973.05,159.55 L972.43,174.40 L971.82,189.24 L971.20,204.08 L970.58,218.93 L969.97,233.77 L969.35,248.62 L968.74,263.46 L968.12,278.31 L967.50,293.15 L966.89,307.99 L966.27,322.84 L965.65,337.68 L965.04,352.53 L964.42,367.37 L963.81,382.21 L963.19,397.06 L962.57,411.90 L961.96,426.75 L961.34,441.59 L960.73,456.43 L960.11,471.28 L959.49,486.12 L958.88,500.97 L958.26,515.81 L957.64,530.65 L957.03,545.50 L956.41,560.34 L955.80,575.19 L955.18,590.03 L954.56,604.87 L953.95,619.72 L953.33,634.56 L952.72,649.41 L952.10,664.25 L951.48,679.09 L950.87,693.94 L950.25,708.78 L949.63,723.63 L949.02,738.47 L948.40,753.32 L947.79,768.16 L947.17,783.00 L946.55,797.85 L945.94,812.69 L945.32,827.54 L944.71,842.38 L944.09,857.22 L943.47,872.07 L942.86,886.91 L942.24,901.76 L941.62,916.60" stroke-dashoffset="4.95"/></g><rect x="108.1" y="56.5" width="358.6" height="139.2" rx="4.17" fill="#fff" fill-opacity="0.8" stroke="#cccccc" stroke-opacity="0.8" stroke-width="2.08"/><circle cx="137.6" cy="75.5" r="2.6" fill="#dcdcdc"/><rect x="116.2" y="98.05" width="41.67" height="14.75" fill="none" stroke="#2ca02c" stroke-width="4.17"/><path d="M116.2,147.0 H157.87 V132.9 H116.2 Z" fill="none" stroke="#2ca02c" stroke-width="4.17" stroke-dasharray="15.42 6.67" stroke-linejoin="miter"/><rect x="116.2" y="166.8" width="41.67" height="14.9" fill="none" stroke="#8c564b" stroke-width="4.17"/><path d="M97.90,169.50 L105.19,169.24 M963.90,169.69 L956.61,169.42 M97.90,389.18 L105.18,388.89 M963.90,389.39 L956.62,389.09 M97.90,608.58 L105.18,608.27 M963.90,608.80 L956.62,608.49 M97.90,828.24 L105.18,827.91 M963.90,828.48 L956.62,828.14 M243.59,45.80 L243.78,53.09 M266.36,911.60 L266.17,904.31 M488.16,45.80 L488.18,53.09 M491.37,911.60 L491.34,904.31 M732.57,45.80 L732.44,53.09 M716.24,911.60 L716.38,904.31 M941.83,911.60 L942.13,904.32 M965.00,376.00 L964.60,383.40" stroke="#000" stroke-width="1.67" fill="none"/><rect x="97.9" y="45.8" width="866.0" height="865.8000000000001" fill="none" stroke="#000" stroke-width="1.67"/><g font-family="Liberation Sans, sans-serif" stroke="#000" stroke-width="0.3" opacity="0.999"><text x="316.22" y="33.80" font-size="26.50" textLength="86.90" lengthAdjust="spacingAndGlyphs" fill="#000">S-PLUS</text><text x="410.09" y="33.80" font-size="26.50" textLength="120.13" lengthAdjust="spacingAndGlyphs" fill="#000">Coverage</text><text x="538.04" y="33.80" font-size="26.50" textLength="10.33" lengthAdjust="spacingAndGlyphs" fill="#000">-</text><text x="555.48" y="33.80" font-size="26.50" textLength="103.39" lengthAdjust="spacingAndGlyphs" fill="#000">Objects:</text><text x="667.15" y="33.80" font-size="26.50" textLength="78.22" lengthAdjust="spacingAndGlyphs" fill="#000">49635</text><text x="174.94" y="80.50" font-size="22.07" textLength="48.36" lengthAdjust="spacingAndGlyphs" fill="#000">iDR5</text><text x="231.21" y="80.50" font-size="22.07" textLength="74.75" lengthAdjust="spacingAndGlyphs" fill="#000">objects</text><text x="176.35" y="113.90" font-size="22.07" textLength="83.87" lengthAdjust="spacingAndGlyphs" fill="#000">5×R200</text><text x="267.38" y="113.90" font-size="22.07" textLength="95.53" lengthAdjust="spacingAndGlyphs" fill="#000">(5.21Mpc</text><text x="372.50" y="113.90" font-size="22.07" textLength="8.11" lengthAdjust="spacingAndGlyphs" fill="#000">•</text><text x="390.38" y="113.90" font-size="22.07" textLength="43.97" lengthAdjust="spacingAndGlyphs" fill="#000">1.25</text><text x="176.35" y="147.60" font-size="22.07" textLength="83.87" lengthAdjust="spacingAndGlyphs" fill="#000">5×R500</text><text x="267.38" y="147.60" font-size="22.07" textLength="95.53" lengthAdjust="spacingAndGlyphs" fill="#000">(3.71Mpc</text><text x="372.50" y="147.60" font-size="22.07" textLength="8.11" lengthAdjust="spacingAndGlyphs" fill="#000">•</text><text x="389.50" y="147.60" font-size="22.07" textLength="45.00" lengthAdjust="spacingAndGlyphs" fill="#000">0.89</text><text x="175.83" y="181.90" font-size="22.07" textLength="102.06" lengthAdjust="spacingAndGlyphs" fill="#000">15.00Mpc</text><text x="284.95" y="181.90" font-size="22.07" textLength="66.29" lengthAdjust="spacingAndGlyphs" fill="#000">(3.593</text><circle cx="442.85" cy="101.10" r="2.0" fill="none" stroke="#000" stroke-width="1.25"/><circle cx="442.85" cy="134.80" r="2.0" fill="none" stroke="#000" stroke-width="1.25"/><circle cx="358.85" cy="169.10" r="2.0" fill="none" stroke="#000" stroke-width="1.25"/><text x="453.10" y="113.90" font-size="22.07" textLength="5.40" lengthAdjust="spacingAndGlyphs" fill="#000">)</text><text x="453.10" y="147.60" font-size="22.07" textLength="5.40" lengthAdjust="spacingAndGlyphs" fill="#000">)</text><text x="369.11" y="181.90" font-size="22.07" textLength="4.78" lengthAdjust="spacingAndGlyphs" fill="#000">)</text><text x="45.55" y="176.75" font-size="22.07" textLength="44.20" lengthAdjust="spacingAndGlyphs" fill="#000">-28°</text><text x="45.55" y="396.43" font-size="22.07" textLength="44.20" lengthAdjust="spacingAndGlyphs" fill="#000">-30°</text><text x="45.55" y="615.83" font-size="22.07" textLength="44.20" lengthAdjust="spacingAndGlyphs" fill="#000">-32°</text><text x="45.55" y="835.49" font-size="22.07" textLength="44.20" lengthAdjust="spacingAndGlyphs" fill="#000">-34°</text><text x="234.48" y="935.80" font-size="22.07" textLength="12.58" lengthAdjust="spacingAndGlyphs" fill="#000">4</text><text x="246.64" y="927.70" font-size="15.50" textLength="9.36" lengthAdjust="spacingAndGlyphs" fill="#000">h</text><text x="256.84" y="935.80" font-size="22.07" textLength="25.77" lengthAdjust="spacingAndGlyphs" fill="#000">20</text><text x="283.64" y="927.70" font-size="15.50" textLength="14.62" lengthAdjust="spacingAndGlyphs" fill="#000">m</text><text x="471.26" y="935.80" font-size="22.07" textLength="25.44" lengthAdjust="spacingAndGlyphs" fill="#000">10</text><text x="496.74" y="927.70" font-size="15.50" textLength="14.62" lengthAdjust="spacingAndGlyphs" fill="#000">m</text><text x="695.99" y="935.80" font-size="22.07" textLength="25.93" lengthAdjust="spacingAndGlyphs" fill="#000">00</text><text x="721.74" y="927.70" font-size="15.50" textLength="14.62" lengthAdjust="spacingAndGlyphs" fill="#000">m</text><text x="910.24" y="935.80" font-size="22.07" textLength="12.55" lengthAdjust="spacingAndGlyphs" fill="#000">3</text><text x="923.40" y="927.70" font-size="15.50" textLength="8.83" lengthAdjust="spacingAndGlyphs" fill="#000">h</text><text x="933.39" y="935.80" font-size="22.07" textLength="25.41" lengthAdjust="spacingAndGlyphs" fill="#000">50</text><text x="959.87" y="927.70" font-size="15.50" textLength="14.26" lengthAdjust="spacingAndGlyphs" fill="#000">m</text><text x="517.30" y="967.90" font-size="22.07" textLength="27.04" lengthAdjust="spacingAndGlyphs" fill="#000">RA</text><g transform="rotate(-90)"><text x="-503.38" y="31.90" font-size="22.07" textLength="43.16" lengthAdjust="spacingAndGlyphs" fill="#000">DEC</text></g></g></svg>
</body></html>
